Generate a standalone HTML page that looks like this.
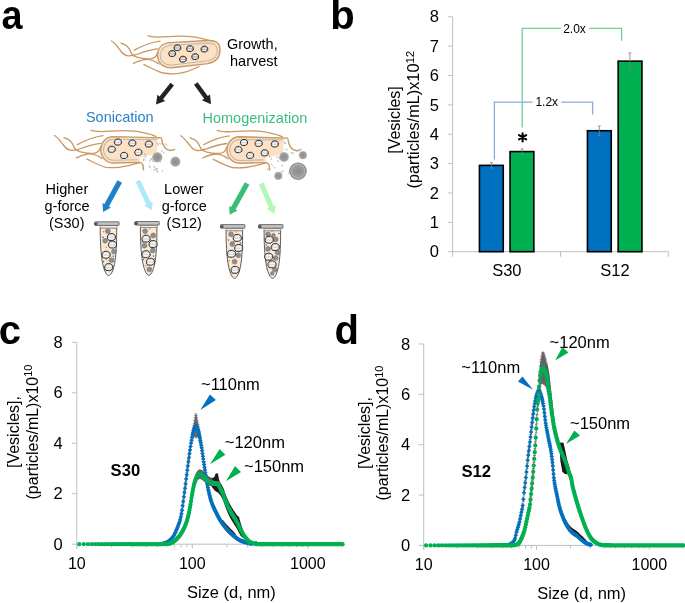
<!DOCTYPE html>
<html><head><meta charset="utf-8"><style>
html,body{margin:0;padding:0;background:#fff;}
svg{display:block;will-change:transform;}
text{font-family:"Liberation Sans",sans-serif;}
</style></head><body>
<svg width="685" height="603" viewBox="0 0 685 603">
<rect width="685" height="603" fill="#fff"/>
<text x="1.5" y="29.3" font-size="40" font-weight="bold" fill="#000" transform="translate(3 0) scale(0.945 1) translate(-3 0)">a</text>
<text x="330.3" y="29.3" font-size="40" font-weight="bold" fill="#000">b</text>
<text x="-1.2" y="344.3" font-size="40" font-weight="bold" fill="#000">c</text>
<text x="334.4" y="344.3" font-size="40" font-weight="bold" fill="#000">d</text>
<g stroke="#bfbfbf" stroke-width="1" fill="none">
<path d="M452.6 251.7V16.82"/>
<path d="M448 251.7h4.6M448 222.34h4.6M448 192.98h4.6M448 163.62h4.6M448 134.26h4.6M448 104.9h4.6M448 75.54h4.6M448 46.18h4.6M448 16.82h4.6"/>
<path d="M452.6 251.7H668.3M560.5 251.7v5M668.3 251.7v5M452.6 251.7v5"/>
</g>
<text x="438.9" y="257.3" font-size="16.5" text-anchor="end" fill="#000">0</text>
<text x="438.9" y="227.94" font-size="16.5" text-anchor="end" fill="#000">1</text>
<text x="438.9" y="198.58" font-size="16.5" text-anchor="end" fill="#000">2</text>
<text x="438.9" y="169.22" font-size="16.5" text-anchor="end" fill="#000">3</text>
<text x="438.9" y="139.86" font-size="16.5" text-anchor="end" fill="#000">4</text>
<text x="438.9" y="110.5" font-size="16.5" text-anchor="end" fill="#000">5</text>
<text x="438.9" y="81.14" font-size="16.5" text-anchor="end" fill="#000">6</text>
<text x="438.9" y="51.78" font-size="16.5" text-anchor="end" fill="#000">7</text>
<text x="438.9" y="22.42" font-size="16.5" text-anchor="end" fill="#000">8</text>
<rect x="479.45" y="165.38" width="23.8" height="86.32" fill="#0070c0" stroke="#000" stroke-width="1.6"/>
<rect x="510.05" y="151.58" width="23.8" height="100.12" fill="#00b050" stroke="#000" stroke-width="1.6"/>
<rect x="587.45" y="130.74" width="23.8" height="120.96" fill="#0070c0" stroke="#000" stroke-width="1.6"/>
<rect x="618.15" y="61.15" width="23.8" height="190.55" fill="#00b050" stroke="#000" stroke-width="1.6"/>
<path d="M491.4 162.74V168.02M489.9 162.74h3M489.9 168.02h3" stroke="#7f7f7f" stroke-width="0.8" fill="none"/>
<path d="M522.1 148.94V154.22M520.6 148.94h3M520.6 154.22h3" stroke="#7f7f7f" stroke-width="0.8" fill="none"/>
<path d="M599.3 126.04V135.43M597.8 126.04h3M597.8 135.43h3" stroke="#7f7f7f" stroke-width="0.8" fill="none"/>
<path d="M629.9 52.93V69.37M628.4 52.93h3M628.4 69.37h3" stroke="#7f7f7f" stroke-width="0.8" fill="none"/>
<path d="M494.4 159.4V102.2H532.6M561.3 102.2H592.6V114.5" stroke="#8eaadc" stroke-width="1.3" fill="none"/>
<path d="M522.2 127.5V28.3H560.8M589.2 28.3H621.6V40.7" stroke="#6fd096" stroke-width="1.3" fill="none"/>
<text x="535.4" y="105.7" font-size="12" fill="#000">1.2x</text>
<text x="563.2" y="33" font-size="12" fill="#000">2.0x</text>
<g stroke="#000" stroke-width="2.1" stroke-linecap="round"><path d="M522.6 133.2V141.4M519 135.1L526.2 139.3M519 139.3L526.2 135.1"/></g>
<text x="492.2" y="276.3" font-size="16.5" fill="#000">S30</text>
<text x="600.3" y="276.3" font-size="16.5" fill="#000">S12</text>
<text transform="translate(399.7 120) rotate(-90)" font-size="16" text-anchor="middle">[Vesicles]</text>
<text transform="translate(419.2 119.6) rotate(-90)" font-size="16.3" text-anchor="middle">(particles/mL)x10<tspan font-size="11.5" dy="-5.4">12</tspan></text>
<g stroke="#bfbfbf" stroke-width="1" fill="none">
<path d="M76.8 548.6V342.36"/>
<path d="M71.8 544.2h5M71.8 493.74h5M71.8 443.28h5M71.8 392.82h5M71.8 342.36h5"/>
<path d="M76.8 544.2H342.57"/>
<path d="M76.8 544.2v4.4M192.3 544.2v4.4M307.8 544.2v4.4M111.57 544.2v3.2M131.91 544.2v3.2M146.34 544.2v3.2M157.53 544.2v3.2M166.68 544.2v3.2M174.41 544.2v3.2M181.11 544.2v3.2M187.02 544.2v3.2M227.07 544.2v3.2M247.41 544.2v3.2M261.84 544.2v3.2M273.03 544.2v3.2M282.18 544.2v3.2M289.91 544.2v3.2M296.61 544.2v3.2M302.52 544.2v3.2M342.57 544.2v3.2"/>
</g>
<text x="62.8" y="549.8" font-size="16.5" text-anchor="end" fill="#000">0</text>
<text x="62.8" y="499.34" font-size="16.5" text-anchor="end" fill="#000">2</text>
<text x="62.8" y="448.88" font-size="16.5" text-anchor="end" fill="#000">4</text>
<text x="62.8" y="398.42" font-size="16.5" text-anchor="end" fill="#000">6</text>
<text x="62.8" y="347.96" font-size="16.5" text-anchor="end" fill="#000">8</text>
<text x="76.8" y="568.6" font-size="16" text-anchor="middle" fill="#000">10</text>
<text x="192.3" y="568.6" font-size="16" text-anchor="middle" fill="#000">100</text>
<text x="307.8" y="568.6" font-size="16" text-anchor="middle" fill="#000">1000</text>
<g stroke="#bfbfbf" stroke-width="1" fill="none">
<path d="M423.7 549.8V343.96"/>
<path d="M418.7 545.4h5M418.7 495.04h5M418.7 444.68h5M418.7 394.32h5M418.7 343.96h5"/>
<path d="M423.7 545.4H683.26"/>
<path d="M423.7 545.4v4.4M536.5 545.4v4.4M649.3 545.4v4.4M457.66 545.4v3.2M477.52 545.4v3.2M491.61 545.4v3.2M502.54 545.4v3.2M511.48 545.4v3.2M519.03 545.4v3.2M525.57 545.4v3.2M531.34 545.4v3.2M570.46 545.4v3.2M590.32 545.4v3.2M604.41 545.4v3.2M615.34 545.4v3.2M624.28 545.4v3.2M631.83 545.4v3.2M638.37 545.4v3.2M644.14 545.4v3.2M683.26 545.4v3.2"/>
</g>
<text x="410.3" y="551" font-size="16.5" text-anchor="end" fill="#000">0</text>
<text x="410.3" y="500.64" font-size="16.5" text-anchor="end" fill="#000">2</text>
<text x="410.3" y="450.28" font-size="16.5" text-anchor="end" fill="#000">4</text>
<text x="410.3" y="399.92" font-size="16.5" text-anchor="end" fill="#000">6</text>
<text x="410.3" y="349.56" font-size="16.5" text-anchor="end" fill="#000">8</text>
<text x="423.7" y="569.8" font-size="16" text-anchor="middle" fill="#000">10</text>
<text x="536.5" y="569.8" font-size="16" text-anchor="middle" fill="#000">100</text>
<text x="649.3" y="569.8" font-size="16" text-anchor="middle" fill="#000">1000</text>
<text x="231.4" y="597.9" font-size="16.5" text-anchor="middle" fill="#000">Size (d, nm)</text>
<text x="581.6" y="599" font-size="16.5" text-anchor="middle" fill="#000">Size (d, nm)</text>
<text x="110.6" y="476.3" font-size="16.6" font-weight="bold" fill="#000">S30</text>
<text x="461.5" y="476.8" font-size="16.6" font-weight="bold" fill="#000">S12</text>
<text x="201" y="390.1" font-size="16.5" fill="#000">~110nm</text>
<text x="224.8" y="448.1" font-size="16.5" fill="#000">~120nm</text>
<text x="244" y="471.8" font-size="16.5" fill="#000">~150nm</text>
<text x="461.3" y="372.9" font-size="16.5" fill="#000">~110nm</text>
<text x="549.6" y="347.6" font-size="16.5" fill="#000">~120nm</text>
<text x="570" y="429.1" font-size="16.5" fill="#000">~150nm</text>
<text transform="translate(18.9 432) rotate(-90)" font-size="16" text-anchor="middle">[Vesicles],</text>
<text transform="translate(37.6 432) rotate(-90)" font-size="16" text-anchor="middle">(particles/mL)x10<tspan font-size="11" dy="-5.2">10</tspan></text>
<text transform="translate(370.3 433) rotate(-90)" font-size="16" text-anchor="middle">[Vesicles],</text>
<text transform="translate(388 433) rotate(-90)" font-size="16" text-anchor="middle">(particles/mL)x10<tspan font-size="11" dy="-5.2">10</tspan></text>
<path d="M200.3 409.9L209.9 394.5L215.9 400.1" fill="#0070c0"/>
<path d="M210 464.3L219.6 449.1L225.4 454.7" fill="#00b050"/>
<path d="M225.9 481.3L235.1 466.1L241 471.9" fill="#00b050"/>
<path d="M533.1 389.8L522.5 376.4L517.9 381.6" fill="#0070c0"/>
<path d="M555.2 360.5L562.4 347L568.4 352.4" fill="#00b050"/>
<path d="M566 443.9L574.3 430.4L580.1 435.5" fill="#00b050"/>
<path d="M220 519.81L220.49 519.92L220.97 520.01L221.46 520.07L221.95 520.1L222.43 520.1L222.92 520.08L223.41 520.62L223.89 521.25L224.38 521.87L224.86 522.48L225.35 523.08L225.84 523.66L226.32 524.23L226.81 524.79L227.3 525.33L227.78 525.86L228.27 526.37L228.76 526.86L229.24 527.35L229.73 527.81L230.22 528.27L230.7 528.7L231.19 529.17L231.68 529.69L232.16 530.2L232.65 530.72L233.14 531.23L233.62 531.74L234.11 532.24L234.59 532.74L235.08 533.32L235.57 534.32L236.05 535.31L236.54 536.29L237.03 537.26L237.51 538.22L238 539.17L238 539.17L237.51 538.84L237.03 538.5L236.54 538.14L236.05 537.78L235.57 537.4L235.08 537.01L234.59 536.62L234.11 536.22L233.62 535.81L233.14 535.4L232.65 534.99L232.16 534.57L231.68 534.15L231.19 533.73L230.7 533.29L230.22 532.84L229.73 532.37L229.24 531.88L228.76 531.38L228.27 530.86L227.78 530.33L227.3 529.79L226.81 529.23L226.32 528.66L225.84 528.07L225.35 527.47L224.86 526.85L224.38 526.23L223.89 525.58L223.41 524.93L222.92 524.27L222.43 523.59L221.95 522.89L221.46 522.16L220.97 521.41L220.49 520.62L220 519.81Z" fill="#1a1a1a"/>
<path d="M210.5 482.48L210.99 480.18L211.49 477.88L211.98 477.77L212.47 477.72L212.97 477.63L213.46 477.52L213.95 477.39L214.45 476.86L214.94 475.38L215.43 473.89L215.93 473.58L216.42 473.45L216.91 473.33L217.41 473.23L217.9 473.59L218.39 475.99L218.89 478.84L219.38 480.58L219.87 481.95L220.36 482.8L220.86 483.47L221.35 484.26L221.84 485.1L222.34 485.97L222.83 486.9L223.32 487.98L223.82 489.22L224.31 490.61L224.8 492.06L225.3 493.43L225.79 494.69L226.28 495.93L226.78 497.17L227.27 498.36L227.76 499.52L228.26 500.64L228.75 501.7L229.24 502.72L229.74 503.69L230.23 504.62L230.72 505.5L231.22 506.36L231.71 507.19L232.2 508.01L232.7 508.81L233.19 509.61L233.68 510.4L234.18 511.15L234.67 511.82L235.16 512.51L235.66 513.21L236.15 513.95L236.64 514.71L237.14 515.38L237.63 515.73L238.12 516.13L238.61 516.55L239.11 517.29L239.6 519.14L240.09 520.97L240.59 522.75L241.08 524.34L241.57 525.8L242.07 527.27L242.56 528.71L243.05 530.12L243.55 531.42L244.04 532.68L244.53 533.88L245.03 535.02L245.52 536.14L246.01 537.26L246.51 538.37L247 539.45L247 539.45L246.51 539.35L246.01 539.24L245.52 539.1L245.03 538.96L244.53 538.81L244.04 538.6L243.55 538.33L243.05 538.01L242.56 537.61L242.07 537.17L241.57 536.72L241.08 536.26L240.59 535.66L240.09 534.84L239.6 533.97L239.11 533.08L238.61 532.12L238.12 531.16L237.63 530.22L237.14 529.32L236.64 528.45L236.15 527.6L235.66 526.79L235.16 526L234.67 525.23L234.18 524.48L233.68 523.7L233.19 522.91L232.7 522.11L232.2 521.31L231.71 520.49L231.22 519.66L230.72 518.8L230.23 517.92L229.74 517L229.24 516.04L228.75 515.03L228.26 513.98L227.76 512.88L227.27 511.73L226.78 510.55L226.28 509.33L225.79 508.07L225.3 506.76L224.8 505.34L224.31 503.84L223.82 502.4L223.32 501.11L222.83 499.96L222.34 498.94L221.84 497.97L221.35 497.03L220.86 496.13L220.36 495.31L219.87 494.62L219.38 494.28L218.89 493.8L218.39 492.92L217.9 492.5L217.41 492.22L216.91 491.94L216.42 491.67L215.93 491.41L215.43 491.12L214.94 490.64L214.45 490.14L213.95 489.58L213.46 488.98L212.97 488.38L212.47 487.69L211.98 486.95L211.49 486.17L210.99 484.33L210.5 482.48Z" fill="#1a1a1a"/><path d="M194 484.73L194.49 481.85L194.97 479.29L195.46 476.85L195.95 474.55L196.44 473.28L196.92 472.33L197.41 471.61L197.9 470.94L198.38 470.35L198.87 469.87L199.36 469.57L199.85 469.49L200.33 469.55L200.82 469.69L201.31 469.89L201.79 470.12L202.28 470.37L202.77 470.73L203.26 471.23L203.74 471.81L204.23 472.4L204.72 472.95L205.21 473.43L205.69 473.9L206.18 474.37L206.67 474.81L207.15 475.25L207.64 475.67L208.13 476.07L208.62 476.44L209.1 476.77L209.59 477.07L210.08 477.31L210.56 477.5L211.05 477.67L211.54 477.83L212.03 477.97L212.51 478.1L213 483.22L213 483.22L212.51 486.5L212.03 486.37L211.54 486.23L211.05 486.07L210.56 485.9L210.08 485.71L209.59 485.43L209.1 485.09L208.62 484.7L208.13 484.28L207.64 483.84L207.15 483.37L206.67 482.88L206.18 482.39L205.69 481.97L205.21 481.61L204.72 481.25L204.23 480.81L203.74 480.34L203.26 479.87L202.77 479.37L202.28 478.88L201.79 478.5L201.31 478.15L200.82 477.82L200.33 477.54L199.85 477.35L199.36 477.3L198.87 477.45L198.38 477.78L197.9 478.22L197.41 478.74L196.92 479.31L196.44 480.11L195.95 481.08L195.46 481.74L194.97 482.55L194.49 483.48L194 484.73Z" fill="#505050"/>
<path d="M166.26 541.77V543.02M167.09 541.28V542.7M167.92 540.7V542.29M168.72 540.06V541.8M169.52 539.36V541.26M170.3 538.65V540.68M171.08 537.92V540.05M171.84 537.11V539.33M172.58 536.2V538.51M173.32 535.17V537.57M174.05 533.94V536.43M174.77 532.5V535.07M175.47 530.92V533.57M176.17 529.24V531.98M176.86 527.53V530.35M177.53 525.83V528.74M178.2 524.13V527.11M178.86 522.32V525.39M179.51 520.33V523.48M180.16 518.07V521.3M180.79 515.31V518.62M181.42 512.04V515.45M182.04 508.38V511.89M182.65 504.05V507.65M183.25 499.58V503.26M183.85 494.98V498.75M184.44 490.58V494.45M185.03 486.2V490.16M185.6 481.62V485.66M186.17 477.02V481.15M186.74 472.56V476.77M187.29 468.14V472.43M187.84 463.78V468.15M188.39 459.43V464.08M188.93 455.2V460.2M189.46 451.16V456.51M189.99 447.2V452.89M190.51 443.39V449.43M191.03 439.9V446.27M191.54 436.79V443.49M192.05 433.76V440.88M192.55 430.52V438.9M193.05 427.64V437.26M193.54 425.26V436.1M194.03 423.19V435.35M194.51 420.32V435.53M194.99 417.7V435.92M195.46 415.45V436.66M195.93 413.89V437.71M196.39 415.66V436.58M196.85 417.87V435.92M197.31 420.39V435.58M197.76 422.6V435.87M198.21 424.51V436.53M198.65 426.61V437.38M199.09 429.04V438.58M199.53 431.72V440.04M199.96 434.57V441.68M200.39 437.07V443.82M200.81 439.54V446.01M201.24 442.12V448.32M201.65 444.89V450.82M202.07 447.78V453.44M202.48 450.73V456.11M202.89 453.66V458.78M203.29 456.52V461.38M203.69 459.36V463.96M204.09 462.22V466.6M204.49 465V469.31M204.88 467.71V471.96M205.27 470.32V474.5M205.65 472.77V476.88M206.04 475.12V479.17M206.42 477.43V481.4M206.79 479.66V483.57M207.17 481.8V485.64M207.54 483.84V487.62M207.91 485.76V489.48M208.27 487.55V491.21M208.64 489.24V492.83M209 490.88V494.41M209.36 492.46V495.92M209.71 493.96V497.36M210.07 495.4V498.74M210.42 496.76V500.03M210.76 498.03V501.25M211.11 499.22V502.38M211.45 500.32V503.41M211.8 501.33V504.37M212.13 502.28V505.27M212.47 503.16V506.14M212.81 504V506.97M213.14 504.79V507.75M213.47 505.56V508.5M213.8 506.29V509.22M214.12 507V509.92M214.44 507.68V510.59M214.77 508.35V511.25M215.09 509.01V511.9M215.4 509.66V512.54M215.72 510.31V513.17M216.03 510.95V513.8M216.34 511.58V514.42M216.65 512.2V515.03M216.96 512.81V515.63M217.27 513.41V516.22M217.57 514V516.8M217.87 514.58V517.37M218.17 515.15V517.93M218.47 515.71V518.48M218.77 516.26V519.02M219.06 516.8V519.55M219.36 517.33V520.06M219.65 517.84V520.57M219.94 518.35V521.06M220.23 518.84V521.54M220.51 519.32V522.01M220.8 519.79V522.47M221.08 520.24V522.92M221.36 520.69V523.35M221.64 521.12V523.77M221.92 521.53V524.18M222.2 521.94V524.58M222.48 522.33V524.96M222.75 522.72V525.34M223.02 523.1V525.71M223.29 523.48V526.08M223.56 523.85V526.44M223.83 524.22V526.79M224.1 524.57V527.14M224.36 524.93V527.49M224.63 525.27V527.82M224.89 525.62V528.16M225.15 525.95V528.48M225.41 526.28V528.8M225.67 526.61V529.12M225.93 526.93V529.43M226.18 527.24V529.73M226.44 527.55V530.03M226.69 527.85V530.33M226.94 528.15V530.62M227.19 528.44V530.9M227.44 528.73V531.18M227.69 529.01V531.45M227.94 529.29V531.72M228.19 529.56V531.98M228.43 529.83V532.24M228.67 530.09V532.5M228.92 530.35V532.74M229.16 530.6V532.99M229.4 530.85V533.23M229.64 531.09V533.46M229.87 531.33V533.69M230.11 531.56V533.91M230.35 531.79V534.13M230.58 532.01V534.35M230.81 532.23V534.56M231.05 532.44V534.76M231.28 532.65V534.96M231.51 532.85V535.16M231.74 533.06V535.35M231.96 533.26V535.54M232.19 533.46V535.73M232.42 533.65V535.92M232.64 533.85V536.11M232.87 534.05V536.3M233.09 534.24V536.49M233.31 534.43V536.67M233.53 534.62V536.85M233.75 534.81V537.03M233.97 535V537.21M234.19 535.18V537.39M234.41 535.37V537.57M234.62 535.55V537.74M234.84 535.73V537.91M235.05 535.9V538.08M235.26 536.08V538.25M235.48 536.25V538.41M235.69 536.42V538.57M235.9 536.58V538.73M236.11 536.75V538.89M236.32 536.91V539.04M236.53 537.07V539.19M236.73 537.23V539.34M236.94 537.38V539.49M237.15 537.53V539.63M237.35 537.68V539.77M237.55 537.82V539.91M237.76 537.97V540.05M237.96 538.11V540.18M238.16 538.24V540.31M238.36 538.38V540.43M238.56 538.51V540.56M238.76 538.63V540.68M238.96 538.76V540.79M239.16 538.88V540.91M239.35 538.99V541.02M239.55 539.11V541.12M239.74 539.22V541.23M239.94 539.33V541.33M240.13 539.44V541.42M240.33 539.55V541.5M240.52 539.65V541.58M240.71 539.76V541.66M240.9 539.86V541.74M241.09 539.95V541.81M241.28 540.05V541.87M241.47 540.13V541.94M241.66 540.22V542M241.84 540.3V542.05M242.03 540.38V542.11M242.22 540.45V542.16M242.4 540.52V542.2M242.58 540.6V542.25M242.77 540.67V542.3M242.95 540.74V542.34M243.13 540.81V542.39M243.32 540.88V542.43M243.5 540.94V542.48M243.68 541.01V542.52M243.86 541.08V542.56M244.04 541.14V542.61M244.21 541.21V542.65M244.39 541.28V542.69M244.57 541.34V542.73M244.75 541.4V542.77M244.92 541.46V542.81M245.1 541.53V542.85M245.27 541.59V542.88M245.45 541.65V542.92M245.62 541.71V542.96M245.79 541.77V542.99M245.97 541.83V543.03M171.08 542.67V543.89M171.84 542.2V543.57M172.58 541.64V543.16M173.32 541.05V542.71M174.05 540.46V542.27M174.77 539.85V541.81M175.47 539.21V541.28M176.17 538.52V540.7M176.86 537.79V540.08M177.53 537.02V539.42M178.2 536.21V538.73M178.86 535.38V538M179.51 534.51V537.24M180.16 533.59V536.41M180.79 532.6V535.53M181.42 531.56V534.59M182.04 530.47V533.59M182.65 529.33V532.55M183.25 528.14V531.46M183.85 526.9V530.32M184.44 525.62V529.13M185.03 524.23V527.84M185.6 522.76V526.43M186.17 521.17V524.91M186.74 519.48V523.28M187.29 517.66V521.52M187.84 515.61V519.53M188.39 513.32V517.31M188.93 510.86V514.9M189.46 508.24V512.35M189.99 505.36V509.53M190.51 502.29V506.52M191.03 499.08V503.37M191.54 495.64V499.99M192.05 492.52V496.94M192.55 489.63V494.25M193.05 486.86V491.68M193.54 484.3V489.31M194.03 482.02V487.23M194.51 480.1V485.5M194.99 478.5V484.1M195.46 477.03V482.81M195.93 475.71V481.68M196.39 474.55V480.74M196.85 473.58V480.01M197.31 472.84V479.49M197.76 472.18V479.06M198.21 471.57V478.67M198.65 471.05V478.37M199.09 470.65V478.2M199.53 470.42V478.18M199.96 470.34V478.32M200.39 470.55V478.36M200.81 470.84V478.43M201.24 471.16V478.55M201.65 471.51V478.68M202.07 471.86V478.82M202.48 472.26V479.02M202.89 472.75V479.3M203.29 473.28V479.63M203.69 473.83V479.98M204.09 474.39V480.34M204.49 474.92V480.68M204.88 475.41V480.97M205.27 475.85V481.22M205.65 476.3V481.47M206.04 476.75V481.73M206.42 477.19V481.98M206.79 477.63V482.23M207.17 478.05V482.47M207.54 478.47V482.7M207.91 478.87V482.92M208.27 479.19V483.18M208.64 479.47V483.44M209 479.73V483.68M209.36 479.96V483.9M209.71 480.17V484.09M210.07 480.35V484.26M210.42 480.5V484.39M210.76 480.63V484.51M211.11 480.76V484.62M211.45 480.88V484.72M211.8 480.99V484.82M212.13 481.09V484.91M212.47 481.19V484.99M212.81 481.28V485.06M213.14 481.37V485.13M213.47 481.45V485.2M213.8 481.53V485.26M214.12 481.6V485.32M214.44 481.67V485.37M214.77 481.73V485.42M215.09 481.79V485.47M215.4 481.84V485.5M215.72 481.88V485.53M216.03 481.92V485.55M216.34 481.95V485.57M216.65 481.99V485.6M216.96 482.03V485.62M217.27 482.08V485.66M217.57 482.14V485.71M217.87 482.22V485.77M218.17 482.4V485.94M218.47 482.78V486.3M218.77 483.31V486.82M219.06 483.94V487.44M219.36 484.63V488.12M219.65 485.34V488.81M219.94 486.02V489.48M220.23 486.63V490.08M220.51 487.2V490.63M220.8 487.76V491.18M221.08 488.33V491.73M221.36 488.89V492.28M221.64 489.46V492.84M221.92 490.03V493.4M222.2 490.61V493.96M222.48 491.2V494.54M222.75 491.8V495.13M223.02 492.42V495.74M223.29 493.05V496.36M223.56 493.71V497M223.83 494.41V497.69M224.1 495.16V498.43M224.36 495.94V499.19M224.63 496.72V499.96M224.89 497.49V500.72M225.15 498.23V501.45M225.41 498.93V502.13M225.67 499.59V502.78M225.93 500.24V503.42M226.18 500.88V504.05M226.44 501.51V504.67M226.69 502.13V505.28M226.94 502.73V505.87M227.19 503.33V506.45M227.44 503.91V507.02M227.69 504.48V507.58M227.94 505.03V508.12M228.19 505.57V508.65M228.43 506.1V509.17M228.67 506.61V509.67M228.92 507.11V510.16M229.16 507.59V510.63M229.4 508.06V511.09M229.64 508.52V511.53M229.87 508.96V511.97M230.11 509.4V512.38M230.35 509.84V512.78M230.58 510.26V513.18M230.81 510.68V513.56M231.05 511.09V513.93M231.28 511.49V514.3M231.51 511.89V514.66M231.74 512.28V515.02M231.96 512.66V515.37M232.19 513.04V515.71M232.42 513.42V516.06M232.64 513.79V516.39M232.87 514.16V516.73M233.09 514.52V517.06M233.31 514.89V517.39M233.53 515.25V517.72M233.75 515.61V518.05M233.97 515.97V518.37M234.19 516.33V518.7M234.41 516.69V519.03M234.62 517.05V519.36M234.84 517.41V519.69M235.05 517.78V520.02M235.26 518.14V520.35M235.48 518.51V520.69M235.69 518.88V521.03M235.9 519.26V521.37M236.11 519.64V521.72M236.32 520.02V522.07M236.53 520.41V522.43M236.73 520.8V522.79M236.94 521.2V523.16M237.15 521.6V523.53M237.35 522.01V523.91M237.55 522.43V524.3M237.76 522.86V524.7M237.96 523.29V525.1M238.16 523.72V525.5M238.36 524.16V525.9M238.56 524.6V526.31M238.76 525.03V526.72M238.96 525.46V527.12M239.16 525.9V527.52M239.35 526.32V527.92M239.55 526.75V528.32M239.74 527.17V528.7M239.94 527.58V529.09M240.13 527.98V529.46M240.33 528.38V529.83M240.52 528.76V530.18M240.71 529.14V530.53M240.9 529.5V530.87M241.09 529.87V531.2M241.28 530.23V531.54M241.47 530.59V531.87M241.66 530.95V532.2M241.84 531.31V532.53" stroke="#5a5a5a" stroke-width="0.8" fill="none"/>
<path d="M165.06 541.77h2.4M165.06 543.02h2.4M165.89 541.28h2.4M165.89 542.7h2.4M166.72 540.7h2.4M166.72 542.29h2.4M167.52 540.06h2.4M167.52 541.8h2.4M168.32 539.36h2.4M168.32 541.26h2.4M169.1 538.65h2.4M169.1 540.68h2.4M169.88 537.92h2.4M169.88 540.05h2.4M170.64 537.11h2.4M170.64 539.33h2.4M171.38 536.2h2.4M171.38 538.51h2.4M172.12 535.17h2.4M172.12 537.57h2.4M172.85 533.94h2.4M172.85 536.43h2.4M173.57 532.5h2.4M173.57 535.07h2.4M174.27 530.92h2.4M174.27 533.57h2.4M174.97 529.24h2.4M174.97 531.98h2.4M175.66 527.53h2.4M175.66 530.35h2.4M176.33 525.83h2.4M176.33 528.74h2.4M177 524.13h2.4M177 527.11h2.4M177.66 522.32h2.4M177.66 525.39h2.4M178.31 520.33h2.4M178.31 523.48h2.4M178.96 518.07h2.4M178.96 521.3h2.4M179.59 515.31h2.4M179.59 518.62h2.4M180.22 512.04h2.4M180.22 515.45h2.4M180.84 508.38h2.4M180.84 511.89h2.4M181.45 504.05h2.4M181.45 507.65h2.4M182.05 499.58h2.4M182.05 503.26h2.4M182.65 494.98h2.4M182.65 498.75h2.4M183.24 490.58h2.4M183.24 494.45h2.4M183.83 486.2h2.4M183.83 490.16h2.4M184.4 481.62h2.4M184.4 485.66h2.4M184.97 477.02h2.4M184.97 481.15h2.4M185.54 472.56h2.4M185.54 476.77h2.4M186.09 468.14h2.4M186.09 472.43h2.4M186.64 463.78h2.4M186.64 468.15h2.4M187.19 459.43h2.4M187.19 464.08h2.4M187.73 455.2h2.4M187.73 460.2h2.4M188.26 451.16h2.4M188.26 456.51h2.4M188.79 447.2h2.4M188.79 452.89h2.4M189.31 443.39h2.4M189.31 449.43h2.4M189.83 439.9h2.4M189.83 446.27h2.4M190.34 436.79h2.4M190.34 443.49h2.4M190.85 433.76h2.4M190.85 440.88h2.4M191.35 430.52h2.4M191.35 438.9h2.4M191.85 427.64h2.4M191.85 437.26h2.4M192.34 425.26h2.4M192.34 436.1h2.4M192.83 423.19h2.4M192.83 435.35h2.4M193.31 420.32h2.4M193.31 435.53h2.4M193.79 417.7h2.4M193.79 435.92h2.4M194.26 415.45h2.4M194.26 436.66h2.4M194.73 413.89h2.4M194.73 437.71h2.4M195.19 415.66h2.4M195.19 436.58h2.4M195.65 417.87h2.4M195.65 435.92h2.4M196.11 420.39h2.4M196.11 435.58h2.4M196.56 422.6h2.4M196.56 435.87h2.4M197.01 424.51h2.4M197.01 436.53h2.4M197.45 426.61h2.4M197.45 437.38h2.4M197.89 429.04h2.4M197.89 438.58h2.4M198.33 431.72h2.4M198.33 440.04h2.4M198.76 434.57h2.4M198.76 441.68h2.4M199.19 437.07h2.4M199.19 443.82h2.4M199.61 439.54h2.4M199.61 446.01h2.4M200.04 442.12h2.4M200.04 448.32h2.4M200.45 444.89h2.4M200.45 450.82h2.4M200.87 447.78h2.4M200.87 453.44h2.4M201.28 450.73h2.4M201.28 456.11h2.4M201.69 453.66h2.4M201.69 458.78h2.4M202.09 456.52h2.4M202.09 461.38h2.4M202.49 459.36h2.4M202.49 463.96h2.4M202.89 462.22h2.4M202.89 466.6h2.4M203.29 465h2.4M203.29 469.31h2.4M203.68 467.71h2.4M203.68 471.96h2.4M204.07 470.32h2.4M204.07 474.5h2.4M204.45 472.77h2.4M204.45 476.88h2.4M204.84 475.12h2.4M204.84 479.17h2.4M205.22 477.43h2.4M205.22 481.4h2.4M205.59 479.66h2.4M205.59 483.57h2.4M205.97 481.8h2.4M205.97 485.64h2.4M206.34 483.84h2.4M206.34 487.62h2.4M206.71 485.76h2.4M206.71 489.48h2.4M207.07 487.55h2.4M207.07 491.21h2.4M207.44 489.24h2.4M207.44 492.83h2.4M207.8 490.88h2.4M207.8 494.41h2.4M208.16 492.46h2.4M208.16 495.92h2.4M208.51 493.96h2.4M208.51 497.36h2.4M208.87 495.4h2.4M208.87 498.74h2.4M209.22 496.76h2.4M209.22 500.03h2.4M209.56 498.03h2.4M209.56 501.25h2.4M209.91 499.22h2.4M209.91 502.38h2.4M210.25 500.32h2.4M210.25 503.41h2.4M210.6 501.33h2.4M210.6 504.37h2.4M210.93 502.28h2.4M210.93 505.27h2.4M211.27 503.16h2.4M211.27 506.14h2.4M211.61 504h2.4M211.61 506.97h2.4M211.94 504.79h2.4M211.94 507.75h2.4M212.27 505.56h2.4M212.27 508.5h2.4M212.6 506.29h2.4M212.6 509.22h2.4M212.92 507h2.4M212.92 509.92h2.4M213.24 507.68h2.4M213.24 510.59h2.4M213.57 508.35h2.4M213.57 511.25h2.4M213.89 509.01h2.4M213.89 511.9h2.4M214.2 509.66h2.4M214.2 512.54h2.4M214.52 510.31h2.4M214.52 513.17h2.4M214.83 510.95h2.4M214.83 513.8h2.4M215.14 511.58h2.4M215.14 514.42h2.4M215.45 512.2h2.4M215.45 515.03h2.4M215.76 512.81h2.4M215.76 515.63h2.4M216.07 513.41h2.4M216.07 516.22h2.4M216.37 514h2.4M216.37 516.8h2.4M216.67 514.58h2.4M216.67 517.37h2.4M216.97 515.15h2.4M216.97 517.93h2.4M217.27 515.71h2.4M217.27 518.48h2.4M217.57 516.26h2.4M217.57 519.02h2.4M217.86 516.8h2.4M217.86 519.55h2.4M218.16 517.33h2.4M218.16 520.06h2.4M218.45 517.84h2.4M218.45 520.57h2.4M218.74 518.35h2.4M218.74 521.06h2.4M219.03 518.84h2.4M219.03 521.54h2.4M219.31 519.32h2.4M219.31 522.01h2.4M219.6 519.79h2.4M219.6 522.47h2.4M219.88 520.24h2.4M219.88 522.92h2.4M220.16 520.69h2.4M220.16 523.35h2.4M220.44 521.12h2.4M220.44 523.77h2.4M220.72 521.53h2.4M220.72 524.18h2.4M221 521.94h2.4M221 524.58h2.4M221.28 522.33h2.4M221.28 524.96h2.4M221.55 522.72h2.4M221.55 525.34h2.4M221.82 523.1h2.4M221.82 525.71h2.4M222.09 523.48h2.4M222.09 526.08h2.4M222.36 523.85h2.4M222.36 526.44h2.4M222.63 524.22h2.4M222.63 526.79h2.4M222.9 524.57h2.4M222.9 527.14h2.4M223.16 524.93h2.4M223.16 527.49h2.4M223.43 525.27h2.4M223.43 527.82h2.4M223.69 525.62h2.4M223.69 528.16h2.4M223.95 525.95h2.4M223.95 528.48h2.4M224.21 526.28h2.4M224.21 528.8h2.4M224.47 526.61h2.4M224.47 529.12h2.4M224.73 526.93h2.4M224.73 529.43h2.4M224.98 527.24h2.4M224.98 529.73h2.4M225.24 527.55h2.4M225.24 530.03h2.4M225.49 527.85h2.4M225.49 530.33h2.4M225.74 528.15h2.4M225.74 530.62h2.4M225.99 528.44h2.4M225.99 530.9h2.4M226.24 528.73h2.4M226.24 531.18h2.4M226.49 529.01h2.4M226.49 531.45h2.4M226.74 529.29h2.4M226.74 531.72h2.4M226.99 529.56h2.4M226.99 531.98h2.4M227.23 529.83h2.4M227.23 532.24h2.4M227.47 530.09h2.4M227.47 532.5h2.4M227.72 530.35h2.4M227.72 532.74h2.4M227.96 530.6h2.4M227.96 532.99h2.4M228.2 530.85h2.4M228.2 533.23h2.4M228.44 531.09h2.4M228.44 533.46h2.4M228.67 531.33h2.4M228.67 533.69h2.4M228.91 531.56h2.4M228.91 533.91h2.4M229.15 531.79h2.4M229.15 534.13h2.4M229.38 532.01h2.4M229.38 534.35h2.4M229.61 532.23h2.4M229.61 534.56h2.4M229.85 532.44h2.4M229.85 534.76h2.4M230.08 532.65h2.4M230.08 534.96h2.4M230.31 532.85h2.4M230.31 535.16h2.4M230.54 533.06h2.4M230.54 535.35h2.4M230.76 533.26h2.4M230.76 535.54h2.4M230.99 533.46h2.4M230.99 535.73h2.4M231.22 533.65h2.4M231.22 535.92h2.4M231.44 533.85h2.4M231.44 536.11h2.4M231.67 534.05h2.4M231.67 536.3h2.4M231.89 534.24h2.4M231.89 536.49h2.4M232.11 534.43h2.4M232.11 536.67h2.4M232.33 534.62h2.4M232.33 536.85h2.4M232.55 534.81h2.4M232.55 537.03h2.4M232.77 535h2.4M232.77 537.21h2.4M232.99 535.18h2.4M232.99 537.39h2.4M233.21 535.37h2.4M233.21 537.57h2.4M233.42 535.55h2.4M233.42 537.74h2.4M233.64 535.73h2.4M233.64 537.91h2.4M233.85 535.9h2.4M233.85 538.08h2.4M234.06 536.08h2.4M234.06 538.25h2.4M234.28 536.25h2.4M234.28 538.41h2.4M234.49 536.42h2.4M234.49 538.57h2.4M234.7 536.58h2.4M234.7 538.73h2.4M234.91 536.75h2.4M234.91 538.89h2.4M235.12 536.91h2.4M235.12 539.04h2.4M235.33 537.07h2.4M235.33 539.19h2.4M235.53 537.23h2.4M235.53 539.34h2.4M235.74 537.38h2.4M235.74 539.49h2.4M235.95 537.53h2.4M235.95 539.63h2.4M236.15 537.68h2.4M236.15 539.77h2.4M236.35 537.82h2.4M236.35 539.91h2.4M236.56 537.97h2.4M236.56 540.05h2.4M236.76 538.11h2.4M236.76 540.18h2.4M236.96 538.24h2.4M236.96 540.31h2.4M237.16 538.38h2.4M237.16 540.43h2.4M237.36 538.51h2.4M237.36 540.56h2.4M237.56 538.63h2.4M237.56 540.68h2.4M237.76 538.76h2.4M237.76 540.79h2.4M237.96 538.88h2.4M237.96 540.91h2.4M238.15 538.99h2.4M238.15 541.02h2.4M238.35 539.11h2.4M238.35 541.12h2.4M238.54 539.22h2.4M238.54 541.23h2.4M238.74 539.33h2.4M238.74 541.33h2.4M238.93 539.44h2.4M238.93 541.42h2.4M239.13 539.55h2.4M239.13 541.5h2.4M239.32 539.65h2.4M239.32 541.58h2.4M239.51 539.76h2.4M239.51 541.66h2.4M239.7 539.86h2.4M239.7 541.74h2.4M239.89 539.95h2.4M239.89 541.81h2.4M240.08 540.05h2.4M240.08 541.87h2.4M240.27 540.13h2.4M240.27 541.94h2.4M240.46 540.22h2.4M240.46 542h2.4M240.64 540.3h2.4M240.64 542.05h2.4M240.83 540.38h2.4M240.83 542.11h2.4M241.02 540.45h2.4M241.02 542.16h2.4M241.2 540.52h2.4M241.2 542.2h2.4M241.38 540.6h2.4M241.38 542.25h2.4M241.57 540.67h2.4M241.57 542.3h2.4M241.75 540.74h2.4M241.75 542.34h2.4M241.93 540.81h2.4M241.93 542.39h2.4M242.12 540.88h2.4M242.12 542.43h2.4M242.3 540.94h2.4M242.3 542.48h2.4M242.48 541.01h2.4M242.48 542.52h2.4M242.66 541.08h2.4M242.66 542.56h2.4M242.84 541.14h2.4M242.84 542.61h2.4M243.01 541.21h2.4M243.01 542.65h2.4M243.19 541.28h2.4M243.19 542.69h2.4M243.37 541.34h2.4M243.37 542.73h2.4M243.55 541.4h2.4M243.55 542.77h2.4M243.72 541.46h2.4M243.72 542.81h2.4M243.9 541.53h2.4M243.9 542.85h2.4M244.07 541.59h2.4M244.07 542.88h2.4M244.25 541.65h2.4M244.25 542.92h2.4M244.42 541.71h2.4M244.42 542.96h2.4M244.59 541.77h2.4M244.59 542.99h2.4M244.77 541.83h2.4M244.77 543.03h2.4M169.88 542.67h2.4M169.88 543.89h2.4M170.64 542.2h2.4M170.64 543.57h2.4M171.38 541.64h2.4M171.38 543.16h2.4M172.12 541.05h2.4M172.12 542.71h2.4M172.85 540.46h2.4M172.85 542.27h2.4M173.57 539.85h2.4M173.57 541.81h2.4M174.27 539.21h2.4M174.27 541.28h2.4M174.97 538.52h2.4M174.97 540.7h2.4M175.66 537.79h2.4M175.66 540.08h2.4M176.33 537.02h2.4M176.33 539.42h2.4M177 536.21h2.4M177 538.73h2.4M177.66 535.38h2.4M177.66 538h2.4M178.31 534.51h2.4M178.31 537.24h2.4M178.96 533.59h2.4M178.96 536.41h2.4M179.59 532.6h2.4M179.59 535.53h2.4M180.22 531.56h2.4M180.22 534.59h2.4M180.84 530.47h2.4M180.84 533.59h2.4M181.45 529.33h2.4M181.45 532.55h2.4M182.05 528.14h2.4M182.05 531.46h2.4M182.65 526.9h2.4M182.65 530.32h2.4M183.24 525.62h2.4M183.24 529.13h2.4M183.83 524.23h2.4M183.83 527.84h2.4M184.4 522.76h2.4M184.4 526.43h2.4M184.97 521.17h2.4M184.97 524.91h2.4M185.54 519.48h2.4M185.54 523.28h2.4M186.09 517.66h2.4M186.09 521.52h2.4M186.64 515.61h2.4M186.64 519.53h2.4M187.19 513.32h2.4M187.19 517.31h2.4M187.73 510.86h2.4M187.73 514.9h2.4M188.26 508.24h2.4M188.26 512.35h2.4M188.79 505.36h2.4M188.79 509.53h2.4M189.31 502.29h2.4M189.31 506.52h2.4M189.83 499.08h2.4M189.83 503.37h2.4M190.34 495.64h2.4M190.34 499.99h2.4M190.85 492.52h2.4M190.85 496.94h2.4M191.35 489.63h2.4M191.35 494.25h2.4M191.85 486.86h2.4M191.85 491.68h2.4M192.34 484.3h2.4M192.34 489.31h2.4M192.83 482.02h2.4M192.83 487.23h2.4M193.31 480.1h2.4M193.31 485.5h2.4M193.79 478.5h2.4M193.79 484.1h2.4M194.26 477.03h2.4M194.26 482.81h2.4M194.73 475.71h2.4M194.73 481.68h2.4M195.19 474.55h2.4M195.19 480.74h2.4M195.65 473.58h2.4M195.65 480.01h2.4M196.11 472.84h2.4M196.11 479.49h2.4M196.56 472.18h2.4M196.56 479.06h2.4M197.01 471.57h2.4M197.01 478.67h2.4M197.45 471.05h2.4M197.45 478.37h2.4M197.89 470.65h2.4M197.89 478.2h2.4M198.33 470.42h2.4M198.33 478.18h2.4M198.76 470.34h2.4M198.76 478.32h2.4M199.19 470.55h2.4M199.19 478.36h2.4M199.61 470.84h2.4M199.61 478.43h2.4M200.04 471.16h2.4M200.04 478.55h2.4M200.45 471.51h2.4M200.45 478.68h2.4M200.87 471.86h2.4M200.87 478.82h2.4M201.28 472.26h2.4M201.28 479.02h2.4M201.69 472.75h2.4M201.69 479.3h2.4M202.09 473.28h2.4M202.09 479.63h2.4M202.49 473.83h2.4M202.49 479.98h2.4M202.89 474.39h2.4M202.89 480.34h2.4M203.29 474.92h2.4M203.29 480.68h2.4M203.68 475.41h2.4M203.68 480.97h2.4M204.07 475.85h2.4M204.07 481.22h2.4M204.45 476.3h2.4M204.45 481.47h2.4M204.84 476.75h2.4M204.84 481.73h2.4M205.22 477.19h2.4M205.22 481.98h2.4M205.59 477.63h2.4M205.59 482.23h2.4M205.97 478.05h2.4M205.97 482.47h2.4M206.34 478.47h2.4M206.34 482.7h2.4M206.71 478.87h2.4M206.71 482.92h2.4M207.07 479.19h2.4M207.07 483.18h2.4M207.44 479.47h2.4M207.44 483.44h2.4M207.8 479.73h2.4M207.8 483.68h2.4M208.16 479.96h2.4M208.16 483.9h2.4M208.51 480.17h2.4M208.51 484.09h2.4M208.87 480.35h2.4M208.87 484.26h2.4M209.22 480.5h2.4M209.22 484.39h2.4M209.56 480.63h2.4M209.56 484.51h2.4M209.91 480.76h2.4M209.91 484.62h2.4M210.25 480.88h2.4M210.25 484.72h2.4M210.6 480.99h2.4M210.6 484.82h2.4M210.93 481.09h2.4M210.93 484.91h2.4M211.27 481.19h2.4M211.27 484.99h2.4M211.61 481.28h2.4M211.61 485.06h2.4M211.94 481.37h2.4M211.94 485.13h2.4M212.27 481.45h2.4M212.27 485.2h2.4M212.6 481.53h2.4M212.6 485.26h2.4M212.92 481.6h2.4M212.92 485.32h2.4M213.24 481.67h2.4M213.24 485.37h2.4M213.57 481.73h2.4M213.57 485.42h2.4M213.89 481.79h2.4M213.89 485.47h2.4M214.2 481.84h2.4M214.2 485.5h2.4M214.52 481.88h2.4M214.52 485.53h2.4M214.83 481.92h2.4M214.83 485.55h2.4M215.14 481.95h2.4M215.14 485.57h2.4M215.45 481.99h2.4M215.45 485.6h2.4M215.76 482.03h2.4M215.76 485.62h2.4M216.07 482.08h2.4M216.07 485.66h2.4M216.37 482.14h2.4M216.37 485.71h2.4M216.67 482.22h2.4M216.67 485.77h2.4M216.97 482.4h2.4M216.97 485.94h2.4M217.27 482.78h2.4M217.27 486.3h2.4M217.57 483.31h2.4M217.57 486.82h2.4M217.86 483.94h2.4M217.86 487.44h2.4M218.16 484.63h2.4M218.16 488.12h2.4M218.45 485.34h2.4M218.45 488.81h2.4M218.74 486.02h2.4M218.74 489.48h2.4M219.03 486.63h2.4M219.03 490.08h2.4M219.31 487.2h2.4M219.31 490.63h2.4M219.6 487.76h2.4M219.6 491.18h2.4M219.88 488.33h2.4M219.88 491.73h2.4M220.16 488.89h2.4M220.16 492.28h2.4M220.44 489.46h2.4M220.44 492.84h2.4M220.72 490.03h2.4M220.72 493.4h2.4M221 490.61h2.4M221 493.96h2.4M221.28 491.2h2.4M221.28 494.54h2.4M221.55 491.8h2.4M221.55 495.13h2.4M221.82 492.42h2.4M221.82 495.74h2.4M222.09 493.05h2.4M222.09 496.36h2.4M222.36 493.71h2.4M222.36 497h2.4M222.63 494.41h2.4M222.63 497.69h2.4M222.9 495.16h2.4M222.9 498.43h2.4M223.16 495.94h2.4M223.16 499.19h2.4M223.43 496.72h2.4M223.43 499.96h2.4M223.69 497.49h2.4M223.69 500.72h2.4M223.95 498.23h2.4M223.95 501.45h2.4M224.21 498.93h2.4M224.21 502.13h2.4M224.47 499.59h2.4M224.47 502.78h2.4M224.73 500.24h2.4M224.73 503.42h2.4M224.98 500.88h2.4M224.98 504.05h2.4M225.24 501.51h2.4M225.24 504.67h2.4M225.49 502.13h2.4M225.49 505.28h2.4M225.74 502.73h2.4M225.74 505.87h2.4M225.99 503.33h2.4M225.99 506.45h2.4M226.24 503.91h2.4M226.24 507.02h2.4M226.49 504.48h2.4M226.49 507.58h2.4M226.74 505.03h2.4M226.74 508.12h2.4M226.99 505.57h2.4M226.99 508.65h2.4M227.23 506.1h2.4M227.23 509.17h2.4M227.47 506.61h2.4M227.47 509.67h2.4M227.72 507.11h2.4M227.72 510.16h2.4M227.96 507.59h2.4M227.96 510.63h2.4M228.2 508.06h2.4M228.2 511.09h2.4M228.44 508.52h2.4M228.44 511.53h2.4M228.67 508.96h2.4M228.67 511.97h2.4M228.91 509.4h2.4M228.91 512.38h2.4M229.15 509.84h2.4M229.15 512.78h2.4M229.38 510.26h2.4M229.38 513.18h2.4M229.61 510.68h2.4M229.61 513.56h2.4M229.85 511.09h2.4M229.85 513.93h2.4M230.08 511.49h2.4M230.08 514.3h2.4M230.31 511.89h2.4M230.31 514.66h2.4M230.54 512.28h2.4M230.54 515.02h2.4M230.76 512.66h2.4M230.76 515.37h2.4M230.99 513.04h2.4M230.99 515.71h2.4M231.22 513.42h2.4M231.22 516.06h2.4M231.44 513.79h2.4M231.44 516.39h2.4M231.67 514.16h2.4M231.67 516.73h2.4M231.89 514.52h2.4M231.89 517.06h2.4M232.11 514.89h2.4M232.11 517.39h2.4M232.33 515.25h2.4M232.33 517.72h2.4M232.55 515.61h2.4M232.55 518.05h2.4M232.77 515.97h2.4M232.77 518.37h2.4M232.99 516.33h2.4M232.99 518.7h2.4M233.21 516.69h2.4M233.21 519.03h2.4M233.42 517.05h2.4M233.42 519.36h2.4M233.64 517.41h2.4M233.64 519.69h2.4M233.85 517.78h2.4M233.85 520.02h2.4M234.06 518.14h2.4M234.06 520.35h2.4M234.28 518.51h2.4M234.28 520.69h2.4M234.49 518.88h2.4M234.49 521.03h2.4M234.7 519.26h2.4M234.7 521.37h2.4M234.91 519.64h2.4M234.91 521.72h2.4M235.12 520.02h2.4M235.12 522.07h2.4M235.33 520.41h2.4M235.33 522.43h2.4M235.53 520.8h2.4M235.53 522.79h2.4M235.74 521.2h2.4M235.74 523.16h2.4M235.95 521.6h2.4M235.95 523.53h2.4M236.15 522.01h2.4M236.15 523.91h2.4M236.35 522.43h2.4M236.35 524.3h2.4M236.56 522.86h2.4M236.56 524.7h2.4M236.76 523.29h2.4M236.76 525.1h2.4M236.96 523.72h2.4M236.96 525.5h2.4M237.16 524.16h2.4M237.16 525.9h2.4M237.36 524.6h2.4M237.36 526.31h2.4M237.56 525.03h2.4M237.56 526.72h2.4M237.76 525.46h2.4M237.76 527.12h2.4M237.96 525.9h2.4M237.96 527.52h2.4M238.15 526.32h2.4M238.15 527.92h2.4M238.35 526.75h2.4M238.35 528.32h2.4M238.54 527.17h2.4M238.54 528.7h2.4M238.74 527.58h2.4M238.74 529.09h2.4M238.93 527.98h2.4M238.93 529.46h2.4M239.13 528.38h2.4M239.13 529.83h2.4M239.32 528.76h2.4M239.32 530.18h2.4M239.51 529.14h2.4M239.51 530.53h2.4M239.7 529.5h2.4M239.7 530.87h2.4M239.89 529.87h2.4M239.89 531.2h2.4M240.08 530.23h2.4M240.08 531.54h2.4M240.27 530.59h2.4M240.27 531.87h2.4M240.46 530.95h2.4M240.46 532.2h2.4M240.64 531.31h2.4M240.64 532.53h2.4" stroke="#6a6a6a" stroke-width="0.8" fill="none"/>
<path d="M162.77 541.31l2.25 2.25 -2.25 2.25 -2.25 -2.25zM163.66 541.06l2.25 2.25 -2.25 2.25 -2.25 -2.25zM164.54 540.77l2.25 2.25 -2.25 2.25 -2.25 -2.25zM165.41 540.47l2.25 2.25 -2.25 2.25 -2.25 -2.25zM166.26 540.15l2.25 2.25 -2.25 2.25 -2.25 -2.25zM167.09 539.74l2.25 2.25 -2.25 2.25 -2.25 -2.25zM167.92 539.24l2.25 2.25 -2.25 2.25 -2.25 -2.25zM168.72 538.68l2.25 2.25 -2.25 2.25 -2.25 -2.25zM169.52 538.06l2.25 2.25 -2.25 2.25 -2.25 -2.25zM170.3 537.42l2.25 2.25 -2.25 2.25 -2.25 -2.25zM171.08 536.74l2.25 2.25 -2.25 2.25 -2.25 -2.25zM171.84 535.97l2.25 2.25 -2.25 2.25 -2.25 -2.25zM172.58 535.11l2.25 2.25 -2.25 2.25 -2.25 -2.25zM173.32 534.12l2.25 2.25 -2.25 2.25 -2.25 -2.25zM174.05 532.93l2.25 2.25 -2.25 2.25 -2.25 -2.25zM174.77 531.54l2.25 2.25 -2.25 2.25 -2.25 -2.25zM175.47 529.99l2.25 2.25 -2.25 2.25 -2.25 -2.25zM176.17 528.36l2.25 2.25 -2.25 2.25 -2.25 -2.25zM176.86 526.69l2.25 2.25 -2.25 2.25 -2.25 -2.25zM177.53 525.03l2.25 2.25 -2.25 2.25 -2.25 -2.25zM178.2 523.37l2.25 2.25 -2.25 2.25 -2.25 -2.25zM178.86 521.6l2.25 2.25 -2.25 2.25 -2.25 -2.25zM179.51 519.65l2.25 2.25 -2.25 2.25 -2.25 -2.25zM180.16 517.44l2.25 2.25 -2.25 2.25 -2.25 -2.25zM180.79 514.72l2.25 2.25 -2.25 2.25 -2.25 -2.25zM181.42 511.49l2.25 2.25 -2.25 2.25 -2.25 -2.25zM182.04 507.88l2.25 2.25 -2.25 2.25 -2.25 -2.25zM182.65 503.6l2.25 2.25 -2.25 2.25 -2.25 -2.25zM183.25 499.17l2.25 2.25 -2.25 2.25 -2.25 -2.25zM183.85 494.61l2.25 2.25 -2.25 2.25 -2.25 -2.25zM184.44 490.27l2.25 2.25 -2.25 2.25 -2.25 -2.25zM185.03 485.93l2.25 2.25 -2.25 2.25 -2.25 -2.25zM185.6 481.39l2.25 2.25 -2.25 2.25 -2.25 -2.25zM186.17 476.83l2.25 2.25 -2.25 2.25 -2.25 -2.25zM186.74 472.41l2.25 2.25 -2.25 2.25 -2.25 -2.25zM187.29 468.03l2.25 2.25 -2.25 2.25 -2.25 -2.25zM187.84 463.72l2.25 2.25 -2.25 2.25 -2.25 -2.25zM188.39 459.51l2.25 2.25 -2.25 2.25 -2.25 -2.25zM188.93 455.45l2.25 2.25 -2.25 2.25 -2.25 -2.25zM189.46 451.58l2.25 2.25 -2.25 2.25 -2.25 -2.25zM189.99 447.79l2.25 2.25 -2.25 2.25 -2.25 -2.25zM190.51 444.16l2.25 2.25 -2.25 2.25 -2.25 -2.25zM191.03 440.83l2.25 2.25 -2.25 2.25 -2.25 -2.25zM191.54 437.89l2.25 2.25 -2.25 2.25 -2.25 -2.25zM192.05 435.07l2.25 2.25 -2.25 2.25 -2.25 -2.25zM192.55 432.46l2.25 2.25 -2.25 2.25 -2.25 -2.25zM193.05 430.2l2.25 2.25 -2.25 2.25 -2.25 -2.25zM193.54 428.43l2.25 2.25 -2.25 2.25 -2.25 -2.25zM194.03 427.02l2.25 2.25 -2.25 2.25 -2.25 -2.25zM194.51 425.68l2.25 2.25 -2.25 2.25 -2.25 -2.25zM194.99 424.56l2.25 2.25 -2.25 2.25 -2.25 -2.25zM195.46 423.81l2.25 2.25 -2.25 2.25 -2.25 -2.25zM195.93 423.55l2.25 2.25 -2.25 2.25 -2.25 -2.25zM196.39 423.87l2.25 2.25 -2.25 2.25 -2.25 -2.25zM196.85 424.65l2.25 2.25 -2.25 2.25 -2.25 -2.25zM197.31 425.73l2.25 2.25 -2.25 2.25 -2.25 -2.25zM197.76 426.99l2.25 2.25 -2.25 2.25 -2.25 -2.25zM198.21 428.27l2.25 2.25 -2.25 2.25 -2.25 -2.25zM198.65 429.74l2.25 2.25 -2.25 2.25 -2.25 -2.25zM199.09 431.56l2.25 2.25 -2.25 2.25 -2.25 -2.25zM199.53 433.63l2.25 2.25 -2.25 2.25 -2.25 -2.25zM199.96 435.87l2.25 2.25 -2.25 2.25 -2.25 -2.25zM200.39 438.2l2.25 2.25 -2.25 2.25 -2.25 -2.25zM200.81 440.53l2.25 2.25 -2.25 2.25 -2.25 -2.25zM201.24 442.97l2.25 2.25 -2.25 2.25 -2.25 -2.25zM201.65 445.61l2.25 2.25 -2.25 2.25 -2.25 -2.25zM202.07 448.36l2.25 2.25 -2.25 2.25 -2.25 -2.25zM202.48 451.17l2.25 2.25 -2.25 2.25 -2.25 -2.25zM202.89 453.97l2.25 2.25 -2.25 2.25 -2.25 -2.25zM203.29 456.7l2.25 2.25 -2.25 2.25 -2.25 -2.25zM203.69 459.41l2.25 2.25 -2.25 2.25 -2.25 -2.25zM204.09 462.16l2.25 2.25 -2.25 2.25 -2.25 -2.25zM204.49 464.9l2.25 2.25 -2.25 2.25 -2.25 -2.25zM204.88 467.58l2.25 2.25 -2.25 2.25 -2.25 -2.25zM205.27 470.16l2.25 2.25 -2.25 2.25 -2.25 -2.25zM205.65 472.57l2.25 2.25 -2.25 2.25 -2.25 -2.25zM206.04 474.9l2.25 2.25 -2.25 2.25 -2.25 -2.25zM206.42 477.16l2.25 2.25 -2.25 2.25 -2.25 -2.25zM206.79 479.36l2.25 2.25 -2.25 2.25 -2.25 -2.25zM207.17 481.47l2.25 2.25 -2.25 2.25 -2.25 -2.25zM207.54 483.48l2.25 2.25 -2.25 2.25 -2.25 -2.25zM207.91 485.37l2.25 2.25 -2.25 2.25 -2.25 -2.25zM208.27 487.13l2.25 2.25 -2.25 2.25 -2.25 -2.25zM208.64 488.79l2.25 2.25 -2.25 2.25 -2.25 -2.25zM209 490.39l2.25 2.25 -2.25 2.25 -2.25 -2.25zM209.36 491.94l2.25 2.25 -2.25 2.25 -2.25 -2.25zM209.71 493.41l2.25 2.25 -2.25 2.25 -2.25 -2.25zM210.07 494.82l2.25 2.25 -2.25 2.25 -2.25 -2.25zM210.42 496.15l2.25 2.25 -2.25 2.25 -2.25 -2.25zM210.76 497.39l2.25 2.25 -2.25 2.25 -2.25 -2.25zM211.11 498.55l2.25 2.25 -2.25 2.25 -2.25 -2.25zM211.45 499.61l2.25 2.25 -2.25 2.25 -2.25 -2.25zM211.8 500.6l2.25 2.25 -2.25 2.25 -2.25 -2.25zM212.13 501.53l2.25 2.25 -2.25 2.25 -2.25 -2.25zM212.47 502.4l2.25 2.25 -2.25 2.25 -2.25 -2.25zM212.81 503.23l2.25 2.25 -2.25 2.25 -2.25 -2.25zM213.14 504.02l2.25 2.25 -2.25 2.25 -2.25 -2.25zM213.47 504.78l2.25 2.25 -2.25 2.25 -2.25 -2.25zM213.8 505.51l2.25 2.25 -2.25 2.25 -2.25 -2.25zM214.12 506.21l2.25 2.25 -2.25 2.25 -2.25 -2.25zM214.44 506.89l2.25 2.25 -2.25 2.25 -2.25 -2.25zM214.77 507.55l2.25 2.25 -2.25 2.25 -2.25 -2.25zM215.09 508.21l2.25 2.25 -2.25 2.25 -2.25 -2.25zM215.4 508.85l2.25 2.25 -2.25 2.25 -2.25 -2.25zM215.72 509.49l2.25 2.25 -2.25 2.25 -2.25 -2.25zM216.03 510.12l2.25 2.25 -2.25 2.25 -2.25 -2.25zM216.34 510.75l2.25 2.25 -2.25 2.25 -2.25 -2.25zM216.65 511.36l2.25 2.25 -2.25 2.25 -2.25 -2.25zM216.96 511.97l2.25 2.25 -2.25 2.25 -2.25 -2.25zM217.27 512.57l2.25 2.25 -2.25 2.25 -2.25 -2.25zM217.57 513.15l2.25 2.25 -2.25 2.25 -2.25 -2.25zM217.87 513.73l2.25 2.25 -2.25 2.25 -2.25 -2.25zM218.17 514.29l2.25 2.25 -2.25 2.25 -2.25 -2.25zM218.47 514.85l2.25 2.25 -2.25 2.25 -2.25 -2.25zM218.77 515.39l2.25 2.25 -2.25 2.25 -2.25 -2.25zM219.06 515.92l2.25 2.25 -2.25 2.25 -2.25 -2.25zM219.36 516.45l2.25 2.25 -2.25 2.25 -2.25 -2.25zM219.65 516.96l2.25 2.25 -2.25 2.25 -2.25 -2.25zM219.94 517.45l2.25 2.25 -2.25 2.25 -2.25 -2.25zM220.23 517.94l2.25 2.25 -2.25 2.25 -2.25 -2.25zM220.51 518.42l2.25 2.25 -2.25 2.25 -2.25 -2.25zM220.8 518.88l2.25 2.25 -2.25 2.25 -2.25 -2.25zM221.08 519.33l2.25 2.25 -2.25 2.25 -2.25 -2.25zM221.36 519.77l2.25 2.25 -2.25 2.25 -2.25 -2.25zM221.64 520.19l2.25 2.25 -2.25 2.25 -2.25 -2.25zM221.92 520.61l2.25 2.25 -2.25 2.25 -2.25 -2.25zM222.2 521.01l2.25 2.25 -2.25 2.25 -2.25 -2.25zM222.48 521.4l2.25 2.25 -2.25 2.25 -2.25 -2.25zM222.75 521.78l2.25 2.25 -2.25 2.25 -2.25 -2.25zM223.02 522.16l2.25 2.25 -2.25 2.25 -2.25 -2.25zM223.29 522.53l2.25 2.25 -2.25 2.25 -2.25 -2.25zM223.56 522.89l2.25 2.25 -2.25 2.25 -2.25 -2.25zM223.83 523.25l2.25 2.25 -2.25 2.25 -2.25 -2.25zM224.1 523.61l2.25 2.25 -2.25 2.25 -2.25 -2.25zM224.36 523.96l2.25 2.25 -2.25 2.25 -2.25 -2.25zM224.63 524.3l2.25 2.25 -2.25 2.25 -2.25 -2.25zM224.89 524.64l2.25 2.25 -2.25 2.25 -2.25 -2.25zM225.15 524.97l2.25 2.25 -2.25 2.25 -2.25 -2.25zM225.41 525.29l2.25 2.25 -2.25 2.25 -2.25 -2.25zM225.67 525.61l2.25 2.25 -2.25 2.25 -2.25 -2.25zM225.93 525.93l2.25 2.25 -2.25 2.25 -2.25 -2.25zM226.18 526.24l2.25 2.25 -2.25 2.25 -2.25 -2.25zM226.44 526.54l2.25 2.25 -2.25 2.25 -2.25 -2.25zM226.69 526.84l2.25 2.25 -2.25 2.25 -2.25 -2.25zM226.94 527.13l2.25 2.25 -2.25 2.25 -2.25 -2.25zM227.19 527.42l2.25 2.25 -2.25 2.25 -2.25 -2.25zM227.44 527.7l2.25 2.25 -2.25 2.25 -2.25 -2.25zM227.69 527.98l2.25 2.25 -2.25 2.25 -2.25 -2.25zM227.94 528.26l2.25 2.25 -2.25 2.25 -2.25 -2.25zM228.19 528.52l2.25 2.25 -2.25 2.25 -2.25 -2.25zM228.43 528.79l2.25 2.25 -2.25 2.25 -2.25 -2.25zM228.67 529.04l2.25 2.25 -2.25 2.25 -2.25 -2.25zM228.92 529.3l2.25 2.25 -2.25 2.25 -2.25 -2.25zM229.16 529.54l2.25 2.25 -2.25 2.25 -2.25 -2.25zM229.4 529.79l2.25 2.25 -2.25 2.25 -2.25 -2.25zM229.64 530.02l2.25 2.25 -2.25 2.25 -2.25 -2.25zM229.87 530.26l2.25 2.25 -2.25 2.25 -2.25 -2.25zM230.11 530.49l2.25 2.25 -2.25 2.25 -2.25 -2.25zM230.35 530.71l2.25 2.25 -2.25 2.25 -2.25 -2.25zM230.58 530.93l2.25 2.25 -2.25 2.25 -2.25 -2.25zM230.81 531.14l2.25 2.25 -2.25 2.25 -2.25 -2.25zM231.05 531.35l2.25 2.25 -2.25 2.25 -2.25 -2.25zM231.28 531.56l2.25 2.25 -2.25 2.25 -2.25 -2.25zM231.51 531.76l2.25 2.25 -2.25 2.25 -2.25 -2.25zM231.74 531.95l2.25 2.25 -2.25 2.25 -2.25 -2.25zM231.96 532.15l2.25 2.25 -2.25 2.25 -2.25 -2.25zM232.19 532.35l2.25 2.25 -2.25 2.25 -2.25 -2.25zM232.42 532.54l2.25 2.25 -2.25 2.25 -2.25 -2.25zM232.64 532.73l2.25 2.25 -2.25 2.25 -2.25 -2.25zM232.87 532.92l2.25 2.25 -2.25 2.25 -2.25 -2.25zM233.09 533.11l2.25 2.25 -2.25 2.25 -2.25 -2.25zM233.31 533.3l2.25 2.25 -2.25 2.25 -2.25 -2.25zM233.53 533.49l2.25 2.25 -2.25 2.25 -2.25 -2.25zM233.75 533.67l2.25 2.25 -2.25 2.25 -2.25 -2.25zM233.97 533.86l2.25 2.25 -2.25 2.25 -2.25 -2.25zM234.19 534.04l2.25 2.25 -2.25 2.25 -2.25 -2.25zM234.41 534.22l2.25 2.25 -2.25 2.25 -2.25 -2.25zM234.62 534.39l2.25 2.25 -2.25 2.25 -2.25 -2.25zM234.84 534.57l2.25 2.25 -2.25 2.25 -2.25 -2.25zM235.05 534.74l2.25 2.25 -2.25 2.25 -2.25 -2.25zM235.26 534.91l2.25 2.25 -2.25 2.25 -2.25 -2.25zM235.48 535.08l2.25 2.25 -2.25 2.25 -2.25 -2.25zM235.69 535.24l2.25 2.25 -2.25 2.25 -2.25 -2.25zM235.9 535.41l2.25 2.25 -2.25 2.25 -2.25 -2.25zM236.11 535.57l2.25 2.25 -2.25 2.25 -2.25 -2.25zM236.32 535.73l2.25 2.25 -2.25 2.25 -2.25 -2.25zM236.53 535.88l2.25 2.25 -2.25 2.25 -2.25 -2.25zM236.73 536.03l2.25 2.25 -2.25 2.25 -2.25 -2.25zM236.94 536.18l2.25 2.25 -2.25 2.25 -2.25 -2.25zM237.15 536.33l2.25 2.25 -2.25 2.25 -2.25 -2.25zM237.35 536.48l2.25 2.25 -2.25 2.25 -2.25 -2.25zM237.55 536.62l2.25 2.25 -2.25 2.25 -2.25 -2.25zM237.76 536.76l2.25 2.25 -2.25 2.25 -2.25 -2.25zM237.96 536.89l2.25 2.25 -2.25 2.25 -2.25 -2.25zM238.16 537.03l2.25 2.25 -2.25 2.25 -2.25 -2.25zM238.36 537.15l2.25 2.25 -2.25 2.25 -2.25 -2.25zM238.56 537.28l2.25 2.25 -2.25 2.25 -2.25 -2.25zM238.76 537.4l2.25 2.25 -2.25 2.25 -2.25 -2.25zM238.96 537.53l2.25 2.25 -2.25 2.25 -2.25 -2.25zM239.16 537.64l2.25 2.25 -2.25 2.25 -2.25 -2.25zM239.35 537.76l2.25 2.25 -2.25 2.25 -2.25 -2.25zM239.55 537.87l2.25 2.25 -2.25 2.25 -2.25 -2.25zM239.74 537.97l2.25 2.25 -2.25 2.25 -2.25 -2.25zM239.94 538.08l2.25 2.25 -2.25 2.25 -2.25 -2.25zM240.13 538.18l2.25 2.25 -2.25 2.25 -2.25 -2.25zM240.33 538.28l2.25 2.25 -2.25 2.25 -2.25 -2.25zM240.52 538.37l2.25 2.25 -2.25 2.25 -2.25 -2.25zM240.71 538.46l2.25 2.25 -2.25 2.25 -2.25 -2.25zM240.9 538.55l2.25 2.25 -2.25 2.25 -2.25 -2.25zM241.09 538.63l2.25 2.25 -2.25 2.25 -2.25 -2.25zM241.28 538.71l2.25 2.25 -2.25 2.25 -2.25 -2.25zM241.47 538.79l2.25 2.25 -2.25 2.25 -2.25 -2.25zM241.66 538.86l2.25 2.25 -2.25 2.25 -2.25 -2.25zM241.84 538.93l2.25 2.25 -2.25 2.25 -2.25 -2.25zM242.03 538.99l2.25 2.25 -2.25 2.25 -2.25 -2.25zM242.22 539.05l2.25 2.25 -2.25 2.25 -2.25 -2.25zM242.4 539.11l2.25 2.25 -2.25 2.25 -2.25 -2.25zM242.58 539.17l2.25 2.25 -2.25 2.25 -2.25 -2.25zM242.77 539.23l2.25 2.25 -2.25 2.25 -2.25 -2.25zM242.95 539.29l2.25 2.25 -2.25 2.25 -2.25 -2.25zM243.13 539.35l2.25 2.25 -2.25 2.25 -2.25 -2.25zM243.32 539.41l2.25 2.25 -2.25 2.25 -2.25 -2.25zM243.5 539.46l2.25 2.25 -2.25 2.25 -2.25 -2.25zM243.68 539.52l2.25 2.25 -2.25 2.25 -2.25 -2.25zM243.86 539.57l2.25 2.25 -2.25 2.25 -2.25 -2.25zM244.04 539.63l2.25 2.25 -2.25 2.25 -2.25 -2.25zM244.21 539.68l2.25 2.25 -2.25 2.25 -2.25 -2.25zM244.39 539.73l2.25 2.25 -2.25 2.25 -2.25 -2.25zM244.57 539.78l2.25 2.25 -2.25 2.25 -2.25 -2.25zM244.75 539.84l2.25 2.25 -2.25 2.25 -2.25 -2.25zM244.92 539.89l2.25 2.25 -2.25 2.25 -2.25 -2.25zM245.1 539.94l2.25 2.25 -2.25 2.25 -2.25 -2.25zM245.27 539.99l2.25 2.25 -2.25 2.25 -2.25 -2.25zM245.45 540.04l2.25 2.25 -2.25 2.25 -2.25 -2.25zM245.62 540.08l2.25 2.25 -2.25 2.25 -2.25 -2.25zM245.79 540.13l2.25 2.25 -2.25 2.25 -2.25 -2.25zM245.97 540.18l2.25 2.25 -2.25 2.25 -2.25 -2.25zM246.14 540.22l2.25 2.25 -2.25 2.25 -2.25 -2.25zM246.31 540.27l2.25 2.25 -2.25 2.25 -2.25 -2.25zM246.48 540.31l2.25 2.25 -2.25 2.25 -2.25 -2.25zM246.65 540.36l2.25 2.25 -2.25 2.25 -2.25 -2.25zM246.82 540.4l2.25 2.25 -2.25 2.25 -2.25 -2.25zM246.99 540.44l2.25 2.25 -2.25 2.25 -2.25 -2.25zM247.16 540.49l2.25 2.25 -2.25 2.25 -2.25 -2.25zM247.32 540.53l2.25 2.25 -2.25 2.25 -2.25 -2.25zM247.49 540.57l2.25 2.25 -2.25 2.25 -2.25 -2.25zM247.66 540.61l2.25 2.25 -2.25 2.25 -2.25 -2.25zM247.82 540.65l2.25 2.25 -2.25 2.25 -2.25 -2.25zM247.99 540.68l2.25 2.25 -2.25 2.25 -2.25 -2.25zM248.15 540.72l2.25 2.25 -2.25 2.25 -2.25 -2.25zM248.32 540.76l2.25 2.25 -2.25 2.25 -2.25 -2.25zM248.48 540.8l2.25 2.25 -2.25 2.25 -2.25 -2.25zM248.65 540.83l2.25 2.25 -2.25 2.25 -2.25 -2.25zM248.81 540.87l2.25 2.25 -2.25 2.25 -2.25 -2.25zM248.97 540.9l2.25 2.25 -2.25 2.25 -2.25 -2.25zM249.13 540.93l2.25 2.25 -2.25 2.25 -2.25 -2.25zM249.29 540.97l2.25 2.25 -2.25 2.25 -2.25 -2.25zM249.46 541l2.25 2.25 -2.25 2.25 -2.25 -2.25zM249.62 541.03l2.25 2.25 -2.25 2.25 -2.25 -2.25zM249.78 541.06l2.25 2.25 -2.25 2.25 -2.25 -2.25zM249.93 541.09l2.25 2.25 -2.25 2.25 -2.25 -2.25zM250.09 541.12l2.25 2.25 -2.25 2.25 -2.25 -2.25zM250.25 541.15l2.25 2.25 -2.25 2.25 -2.25 -2.25zM250.41 541.17l2.25 2.25 -2.25 2.25 -2.25 -2.25zM250.57 541.2l2.25 2.25 -2.25 2.25 -2.25 -2.25zM250.72 541.23l2.25 2.25 -2.25 2.25 -2.25 -2.25zM250.88 541.25l2.25 2.25 -2.25 2.25 -2.25 -2.25zM251.04 541.28l2.25 2.25 -2.25 2.25 -2.25 -2.25zM251.19 541.3l2.25 2.25 -2.25 2.25 -2.25 -2.25zM251.35 541.32l2.25 2.25 -2.25 2.25 -2.25 -2.25zM251.5 541.35l2.25 2.25 -2.25 2.25 -2.25 -2.25zM251.65 541.37l2.25 2.25 -2.25 2.25 -2.25 -2.25zM251.81 541.39l2.25 2.25 -2.25 2.25 -2.25 -2.25zM251.96 541.41l2.25 2.25 -2.25 2.25 -2.25 -2.25zM252.11 541.43l2.25 2.25 -2.25 2.25 -2.25 -2.25zM252.26 541.45l2.25 2.25 -2.25 2.25 -2.25 -2.25z" fill="#0070c0"/>
<path d="M79.25 544.2h0M83.81 544.2h0M87.99 544.2h0M91.85 544.2h0M95.44 544.2h0M98.78 544.2h0M101.92 544.2h0M104.87 544.2h0M107.66 544.2h0M110.3 544.2h0M112.81 544.2h0M115.2 544.2h0M117.48 544.2h0M119.66 544.2h0M121.75 544.2h0M123.76 544.2h0M125.68 544.2h0M127.54 544.2h0M129.33 544.2h0M131.06 544.2h0M132.74 544.2h0M134.35 544.2h0M135.92 544.2h0M137.44 544.2h0M138.92 544.2h0M140.35 544.2h0M141.74 544.2h0M143.1 544.2h0M144.42 544.2h0M145.71 544.2h0M146.96 544.2h0M148.18 544.2h0M149.38 544.2h0M150.55 544.2h0M151.69 544.2h0M152.8 544.2h0M153.89 544.2h0M154.96 544.2h0M156 544.2h0M157.03 544.19h0M158.03 544.17h0M159.01 544.15h0M159.98 544.12h0M160.92 544.1h0M161.85 544.07h0M162.77 544.03h0M163.66 544h0M164.54 543.96h0M165.41 543.93h0M166.26 543.89h0M167.09 543.85h0M167.92 543.8h0M168.72 543.74h0M169.52 543.66h0M170.3 543.54h0M171.08 543.28h0M171.84 542.88h0M172.58 542.4h0M173.32 541.88h0M174.05 541.37h0M174.77 540.83h0M175.47 540.24h0M176.17 539.61h0M176.86 538.93h0M177.53 538.22h0M178.2 537.47h0M178.86 536.69h0M179.51 535.87h0M180.16 535h0M180.79 534.06h0M181.42 533.07h0M182.04 532.03h0M182.65 530.94h0M183.25 529.8h0M183.85 528.61h0M184.44 527.37h0M185.03 526.03h0M185.6 524.59h0M186.17 523.04h0M186.74 521.38h0M187.29 519.59h0M187.84 517.57h0M188.39 515.31h0M188.93 512.88h0M189.46 510.3h0M189.99 507.44h0M190.51 504.41h0M191.03 501.22h0M191.54 497.82h0M192.05 494.73h0M192.55 491.94h0M193.05 489.27h0M193.54 486.8h0M194.03 484.62h0M194.51 482.8h0M194.99 481.3h0M195.46 479.92h0M195.93 478.69h0M196.39 477.64h0M196.85 476.79h0M197.31 476.17h0M197.76 475.62h0M198.21 475.12h0M198.65 474.71h0M199.09 474.43h0M199.53 474.3h0M199.96 474.33h0M200.39 474.45h0M200.81 474.63h0M201.24 474.85h0M201.65 475.1h0M202.07 475.34h0M202.48 475.64h0M202.89 476.02h0M203.29 476.45h0M203.69 476.91h0M204.09 477.36h0M204.49 477.8h0M204.88 478.19h0M205.27 478.54h0M205.65 478.89h0M206.04 479.24h0M206.42 479.59h0M206.79 479.93h0M207.17 480.26h0M207.54 480.59h0M207.91 480.89h0M208.27 481.18h0M208.64 481.46h0M209 481.71h0M209.36 481.93h0M209.71 482.13h0M210.07 482.3h0M210.42 482.44h0M210.76 482.57h0M211.11 482.69h0M211.45 482.8h0M211.8 482.9h0M212.13 483h0M212.47 483.09h0M212.81 483.17h0M213.14 483.25h0M213.47 483.32h0M213.8 483.39h0M214.12 483.46h0M214.44 483.52h0M214.77 483.58h0M215.09 483.63h0M215.4 483.67h0M215.72 483.71h0M216.03 483.73h0M216.34 483.76h0M216.65 483.79h0M216.96 483.83h0M217.27 483.87h0M217.57 483.92h0M217.87 483.99h0M218.17 484.17h0M218.47 484.54h0M218.77 485.06h0M219.06 485.69h0M219.36 486.38h0M219.65 487.08h0M219.94 487.75h0M220.23 488.35h0M220.51 488.92h0M220.8 489.47h0M221.08 490.03h0M221.36 490.59h0M221.64 491.15h0M221.92 491.71h0M222.2 492.29h0M222.48 492.87h0M222.75 493.47h0M223.02 494.08h0M223.29 494.71h0M223.56 495.36h0M223.83 496.05h0M224.1 496.8h0M224.36 497.57h0M224.63 498.34h0M224.89 499.11h0M225.15 499.84h0M225.41 500.53h0M225.67 501.19h0M225.93 501.83h0M226.18 502.47h0M226.44 503.09h0M226.69 503.7h0M226.94 504.3h0M227.19 504.89h0M227.44 505.47h0M227.69 506.03h0M227.94 506.58h0M228.19 507.11h0M228.43 507.63h0M228.67 508.14h0M228.92 508.63h0M229.16 509.11h0M229.4 509.57h0M229.64 510.02h0M229.87 510.46h0M230.11 510.89h0M230.35 511.31h0M230.58 511.72h0M230.81 512.12h0M231.05 512.51h0M231.28 512.9h0M231.51 513.28h0M231.74 513.65h0M231.96 514.02h0M232.19 514.38h0M232.42 514.74h0M232.64 515.09h0M232.87 515.44h0M233.09 515.79h0M233.31 516.14h0M233.53 516.48h0M233.75 516.83h0M233.97 517.17h0M234.19 517.51h0M234.41 517.86h0M234.62 518.2h0M234.84 518.55h0M235.05 518.9h0M235.26 519.25h0M235.48 519.6h0M235.69 519.96h0M235.9 520.32h0M236.11 520.68h0M236.32 521.05h0M236.53 521.42h0M236.73 521.79h0M236.94 522.18h0M237.15 522.57h0M237.35 522.96h0M237.55 523.37h0M237.76 523.78h0M237.96 524.19h0M238.16 524.61h0M238.36 525.03h0M238.56 525.45h0M238.76 525.87h0M238.96 526.29h0M239.16 526.71h0M239.35 527.12h0M239.55 527.53h0M239.74 527.93h0M239.94 528.33h0M240.13 528.72h0M240.33 529.1h0M240.52 529.47h0M240.71 529.83h0M240.9 530.18h0M241.09 530.53h0M241.28 530.88h0M241.47 531.23h0M241.66 531.57h0M241.84 531.92h0M242.03 532.26h0M242.22 532.59h0M242.4 532.92h0M242.58 533.25h0M242.77 533.57h0M242.95 533.89h0M243.13 534.2h0M243.32 534.5h0M243.5 534.8h0M243.68 535.08h0M243.86 535.36h0M244.04 535.64h0M244.21 535.9h0M244.39 536.15h0M244.57 536.4h0M244.75 536.63h0M244.92 536.86h0M245.1 537.08h0M245.27 537.31h0M245.45 537.53h0M245.62 537.75h0M245.79 537.97h0M245.97 538.19h0M246.14 538.41h0M246.31 538.62h0M246.48 538.83h0M246.65 539.03h0M246.82 539.24h0M246.99 539.43h0M247.16 539.63h0M247.32 539.82h0M247.49 540h0M247.66 540.18h0M247.82 540.35h0M247.99 540.52h0M248.15 540.68h0M248.32 540.83h0M248.48 540.98h0M248.65 541.12h0M248.81 541.25h0M248.97 541.38h0M249.13 541.5h0M249.29 541.61h0M249.46 541.71h0M249.62 541.81h0M249.78 541.89h0M249.93 541.97h0M250.09 542.04h0M250.25 542.11h0M250.41 542.18h0M250.57 542.24h0M250.72 542.31h0M250.88 542.37h0M251.04 542.44h0M251.19 542.5h0M251.35 542.56h0M251.5 542.62h0M251.65 542.68h0M251.81 542.74h0M251.96 542.79h0M252.11 542.85h0M252.26 542.9h0M252.42 542.96h0M252.57 543.01h0M252.72 543.06h0M252.87 543.11h0M253.02 543.16h0M253.17 543.21h0M253.32 543.26h0M253.46 543.3h0M253.61 543.35h0M253.76 543.39h0M253.91 543.43h0M254.05 543.47h0M254.2 543.51h0M254.35 543.55h0M254.49 543.59h0M254.64 543.63h0M254.78 543.66h0M254.92 543.69h0M255.07 543.73h0M255.21 543.76h0M255.35 543.79h0M255.5 543.81h0M255.64 543.84h0M255.78 543.87h0M255.92 543.89h0M256.06 543.92h0M256.2 543.94h0M256.34 543.96h0M256.48 543.98h0M256.62 544h0M256.76 544.01h0M256.9 544.03h0M257.04 544.04h0M257.18 544.05h0M257.31 544.06h0M257.45 544.07h0M257.59 544.08h0M257.72 544.09h0M257.86 544.1h0M258 544.1h0M258.13 544.1h0M258.27 544.11h0M258.4 544.11h0M258.53 544.11h0M258.67 544.12h0M258.8 544.12h0M258.93 544.12h0M259.07 544.13h0M259.2 544.13h0M259.33 544.13h0M259.46 544.14h0M259.59 544.14h0M259.72 544.14h0M259.86 544.14h0M259.99 544.15h0M260.12 544.15h0M260.25 544.15h0M260.37 544.15h0M260.5 544.16h0M260.63 544.16h0M260.76 544.16h0M260.89 544.16h0M261.02 544.17h0M261.14 544.17h0M261.27 544.17h0M261.4 544.17h0M261.52 544.17h0M261.65 544.18h0M261.78 544.18h0M261.9 544.18h0M262.03 544.18h0M262.15 544.18h0M262.27 544.18h0M262.4 544.18h0M262.52 544.19h0M262.65 544.19h0M262.77 544.19h0M262.89 544.19h0M263.02 544.19h0M263.14 544.19h0M263.26 544.19h0M263.38 544.19h0M263.5 544.19h0M263.62 544.2h0M263.74 544.2h0M263.87 544.2h0M263.99 544.2h0M264.11 544.2h0M264.23 544.2h0M264.34 544.2h0M264.46 544.2h0M264.58 544.2h0M264.7 544.2h0M264.82 544.2h0M264.94 544.2h0M265.06 544.2h0M265.17 544.2h0M265.29 544.2h0M265.41 544.2h0M265.52 544.2h0M265.64 544.2h0M265.76 544.2h0M265.87 544.2h0M265.99 544.2h0M266.1 544.2h0M266.22 544.2h0M266.33 544.2h0M266.45 544.2h0M266.56 544.2h0M266.68 544.2h0M266.79 544.2h0M266.9 544.2h0M267.02 544.2h0M267.13 544.2h0M267.24 544.2h0M267.35 544.2h0M267.47 544.2h0M267.58 544.2h0M267.69 544.2h0" stroke="#00b050" stroke-width="4.3" stroke-linecap="round" fill="none"/>
<path d="M267.75 544.2H342.57" stroke="#00b050" stroke-width="4.3" stroke-linecap="round"/>
<path d="M563 517.45L563.49 517.96L563.98 518.43L564.47 518.86L564.96 519.24L565.45 519.56L565.94 519.82L566.43 520.58L566.92 521.4L567.42 522.19L567.91 522.96L568.4 523.69L568.89 524.4L569.38 525.06L569.87 525.69L570.36 526.27L570.85 526.8L571.34 527.28L571.83 527.72L572.32 528.11L572.81 528.47L573.3 528.8L573.79 529.11L574.28 529.4L574.77 529.69L575.26 530L575.75 530.33L576.25 530.68L576.74 531.04L577.23 531.42L577.72 531.83L578.21 532.27L578.7 532.73L579.19 533.21L579.68 533.69L580.17 534.18L580.66 534.67L581.15 535.14L581.64 535.6L582.13 536.04L582.62 536.44L583.11 536.86L583.6 537.4L584.09 537.94L584.58 538.46L585.08 538.97L585.57 539.47L586.06 539.96L586.55 540.46L587.04 541.28L587.53 542.07L588.02 542.84L588.51 543.59L589 544.31L589 544.31L588.51 544.17L588.02 544.02L587.53 543.84L587.04 543.63L586.55 543.4L586.06 543.16L585.57 542.9L585.08 542.62L584.58 542.33L584.09 542.03L583.6 541.73L583.11 541.41L582.62 541.05L582.13 540.66L581.64 540.24L581.15 539.79L580.66 539.33L580.17 538.85L579.68 538.38L579.19 537.9L578.7 537.44L578.21 536.99L577.72 536.56L577.23 536.16L576.74 535.79L576.25 535.45L575.75 535.12L575.26 534.79L574.77 534.48L574.28 534.16L573.79 533.83L573.3 533.49L572.81 533.12L572.32 532.73L571.83 532.3L571.34 531.84L570.85 531.33L570.36 530.76L569.87 530.15L569.38 529.49L568.89 528.79L568.4 528.05L567.91 527.29L567.42 526.49L566.92 525.66L566.43 524.81L565.94 523.94L565.45 522.99L564.96 521.99L564.47 520.92L563.98 519.81L563.49 518.65L563 517.45Z" fill="#1a1a1a"/>
<path d="M544.5 370L544.98 368.16L545.46 366.33L545.94 364.74L546.42 364.02L546.9 363.89L547.38 364.29L547.85 366.1L548.33 368.4L548.81 370.91L549.29 373.71L549.77 377.45L550.25 382.24L550.73 386.71L551.21 390.78L551.69 394.62L552.17 398.63L552.65 403.17L553.12 407.62L553.6 411.94L554.08 416.3L554.56 421.43L555.04 426.29L555.52 430.94L556 435.46L556 435.46L555.52 433.58L555.04 431.56L554.56 429.33L554.08 426.84L553.6 424.13L553.12 421.24L552.65 418.23L552.17 415.13L551.69 411.87L551.21 408.41L550.73 404.73L550.25 400.64L549.77 396.23L549.29 392.39L548.81 388.88L548.33 385.65L547.85 382.63L547.38 379.7L546.9 377.07L546.42 374.96L545.94 373.36L545.46 372.08L544.98 371.03L544.5 370Z" fill="#505050"/>
<path d="M506.77 544.42V545.78M507.66 544.14V545.68M508.53 543.82V545.53M509.39 543.47V545.35M510.24 543.08V545.14M511.07 542.52V544.77M511.88 541.81V544.26M512.69 541.01V543.66M513.48 540.11V542.94M514.25 538.93V541.95M515.02 536.95V540.15M515.77 533.65V537.04M516.51 530.24V533.8M517.25 527.55V531.29M517.97 525.17V529.08M518.68 522.77V526.85M519.38 520.07V524.32M520.07 516.83V521.24M520.75 513.36V517.82M521.42 510.03V514.54M522.08 506.94V511.5M522.73 503.16V507.78M523.38 496.91V501.58M524.01 490.41V495.13M524.64 485.15V489.92M525.26 480.24V485.06M525.87 475.17V480.04M526.48 469.53V474.45M527.08 463.54V468.51M527.67 457.79V462.8M528.25 452.76V457.82M528.83 448.28V453.38M529.4 443.95V449.1M529.96 439.41V444.61M530.52 434.47V439.74M531.07 429.36V434.7M531.61 424.35V429.76M532.15 419.68V425.16M532.68 415.32V420.87M533.21 411.07V416.7M533.73 407.12V412.82M534.24 403.63V409.39M534.75 400.67V406.51M535.26 397.97V403.87M535.76 395.57V401.53M536.25 393.54V399.63M536.74 391.98V398.22M537.23 390.56V396.97M537.71 389.27V395.84M538.19 388.25V394.98M538.66 387.63V394.52M539.12 387.6V394.56M539.59 388.31V395.11M540.04 389.44V396.09M540.5 390.79V397.29M540.95 392.17V398.53M541.39 393.54V399.75M541.83 395.08V401.13M542.27 396.82V402.68M542.7 398.76V404.4M543.13 400.9V406.33M543.56 403.32V408.54M543.98 406.54V411.55M544.4 410.31V415.11M544.82 414.21V418.8M545.23 417.82V422.2M545.64 420.79V424.98M546.04 423.4V427.4M546.44 425.76V429.71M546.84 427.97V431.87M547.24 430.07V433.93M547.63 432.11V435.93M548.02 434.13V437.9M548.4 436.15V439.87M548.78 438.09V441.77M549.16 439.91V443.54M549.54 441.67V445.27M549.91 443.47V447.02M550.29 445.35V448.86M550.65 447.4V450.87M551.02 449.67V453.1M551.38 452.18V455.56M551.74 454.9V458.24M552.1 457.8V461.1M552.46 460.87V464.13M552.81 464.48V467.7M553.16 468.52V471.71M553.51 472.55V475.7M553.85 476.15V479.25M554.19 478.94V482M554.53 481.26V484.29M554.87 483.36V486.34M555.21 485.26V488.21M555.54 487.02V489.93M555.87 488.68V491.55M556.2 490.27V493.1M556.53 491.83V494.62M556.85 493.39V496.15M557.17 494.99V497.71M557.49 496.59V499.27M557.81 498.17V500.82M558.13 499.72V502.33M558.44 501.22V503.8M558.75 502.68V505.22M559.06 504.06V506.57M559.37 505.38V507.85M559.68 506.6V509.04M559.98 507.74V510.14M560.28 508.77V511.16M560.58 509.74V512.12M560.88 510.65V513.03M561.18 511.52V513.89M561.48 512.35V514.71M561.77 513.14V515.49M562.06 513.91V516.25M562.35 514.65V516.99M562.64 515.38V517.71M562.92 516.1V518.43M563.21 516.81V519.12M563.49 517.5V519.81M563.77 518.17V520.47M564.05 518.83V521.12M564.33 519.47V521.75M564.61 520.09V522.37M564.88 520.69V522.96M565.16 521.27V523.53M565.43 521.82V524.08M565.7 522.36V524.6M565.97 522.87V525.11M566.24 523.35V525.58M566.5 523.82V526.05M566.77 524.28V526.5M567.03 524.74V526.95M567.29 525.18V527.39M567.56 525.62V527.82M567.81 526.04V528.23M568.07 526.46V528.64M568.33 526.86V529.04M568.58 527.25V529.43M568.84 527.64V529.8M569.09 528.01V530.16M569.34 528.36V530.51M569.59 528.71V530.85M569.84 529.04V531.18M570.09 529.36V531.49M570.33 529.67V531.79M570.58 529.96V532.08M570.82 530.24V532.35M571.06 530.51V532.61M571.31 530.76V532.86M571.55 531V533.09M571.79 531.22V533.31M572.02 531.44V533.52M572.26 531.64V533.72M572.5 531.84V533.91M572.73 532.03V534.09M572.96 532.21V534.26M573.2 532.38V534.43M573.43 532.55V534.6M573.66 532.72V534.75M573.88 532.88V534.91M574.11 533.03V535.06M574.34 533.19V535.2M574.57 533.34V535.35M574.79 533.48V535.49M575.01 533.63V535.63M575.24 533.79V535.76M575.46 533.95V535.89M575.68 534.11V536.02M575.9 534.27V536.15M576.12 534.43V536.28M576.33 534.6V536.42M576.55 534.76V536.56M576.77 534.93V536.7M576.98 535.11V536.84M577.2 535.29V536.99M577.41 535.47V537.15M577.62 535.66V537.31M577.83 535.85V537.47M578.04 536.04V537.64M578.25 536.24V537.81M578.46 536.45V537.99M578.67 536.65V538.16M578.87 536.86V538.34M579.08 537.07V538.53M579.29 537.28V538.71M579.49 537.49V538.89M579.69 537.7V539.08M579.9 537.91V539.26M580.1 538.12V539.44M580.3 538.33V539.62M580.5 538.54V539.8M580.7 538.74V539.98M580.9 538.94V540.16M511.07 544.72V545.94M511.88 544.62V545.99M512.69 544.5V546.03M513.48 544.35V546.05M514.25 544.18V546.03M515.02 543.98V545.99M515.77 543.68V546.01M516.51 543.33V545.98M517.25 542.85V545.82M517.97 542.26V545.53M518.68 541.56V545.13M519.38 540.49V544.36M520.07 539.13V543.3M520.75 537.68V542.14M521.42 536.19V540.94M522.08 534.59V539.6M522.73 532.94V538.07M523.38 531.15V536.39M524.01 529.21V534.56M524.64 527.02V532.48M525.26 524.41V529.98M525.87 521.6V527.28M526.48 518.79V524.58M527.08 515.89V521.78M527.67 512.93V518.93M528.25 510.05V516.14M528.83 507.46V513.65M529.4 504.77V511.06M529.96 501.4V507.8M530.52 496.39V502.86M531.07 490.79V497.33M531.61 485.42V492.04M532.15 479.98V486.67M532.68 474.35V481.1M533.21 468.41V475.23M533.73 462.08V468.98M534.24 455.48V462.45M534.75 448.74V455.77M535.26 441.85V448.95M535.76 434.07V441.23M536.25 424.59V432.4M536.74 414.76V423.75M537.23 404.53V414.68M537.71 397.28V408.58M538.19 393.16V405.9M538.66 387.07V401.69M539.12 378.45V394.94M539.59 371.5V389.84M540.04 365.77V385.94M540.5 362.1V384.15M540.95 359.54V383.45M541.39 357.25V383.01M541.83 355.27V382.85M542.27 353.62V383.01M542.7 352.35V383.54M543.13 352.24V383.68M543.56 353.12V383.55M543.98 354.27V383.69M544.4 355.58V384M544.82 356.96V384.4M545.23 358.34V384.77M545.64 359.81V385.22M546.04 361.48V385.88M546.44 363.36V386.75M546.84 365.6V388M547.24 368.19V389.6M547.63 371V391.44M548.02 373.91V393.38M548.4 376.84V395.33M548.78 379.91V397.45M549.16 383.09V399.77M549.54 386.37V402.29M549.91 389.94V405.11M550.29 393.75V408.18M550.65 397.29V410.98M551.02 400.51V413.48M551.38 403.48V415.91M551.74 406.31V418.2M552.1 409.01V420.36M552.46 411.6V422.42M552.81 414.12V424.41M553.16 416.55V426.34M553.51 418.88V428.21M553.85 421.11V429.98M554.19 423.23V431.63M554.53 425.21V433.16M554.87 427.05V434.55M555.21 428.75V435.81M555.54 430.34V436.96M555.87 431.87V438.04M556.2 433.28V439.18M556.53 434.62V440.36M556.85 435.94V441.52M557.17 437.23V442.65M557.49 438.48V443.73M557.81 439.66V444.75M558.13 440.78V445.71M558.44 441.86V446.64M558.75 442.91V447.53M559.06 443.92V448.39M559.37 444.9V449.22M559.68 445.85V450.01M559.98 446.77V450.78M560.28 447.6V451.58M560.58 448.4V452.36M560.88 449.16V453.1M561.18 449.88V453.8M561.48 450.58V454.48M561.77 451.26V455.15M562.06 451.93V455.79M562.35 452.59V456.43M562.64 453.25V457.07M562.92 453.91V457.71M563.21 454.58V458.36M563.49 455.26V459.02M563.77 455.95V459.7M564.05 456.64V460.37M564.33 457.32V461.03M564.61 458V461.69M564.88 458.68V462.36M565.16 459.37V463.03M565.43 460.06V463.7M565.7 460.76V464.38M565.97 461.48V465.08M566.24 462.2V465.79M566.5 462.95V466.51M566.77 463.71V467.26M567.03 464.52V468.05M567.29 465.35V468.87M567.56 466.21V469.7M567.81 467.07V470.55M568.07 467.93V471.39M568.33 468.78V472.22M568.58 469.6V473.03M568.84 470.4V473.82M569.09 471.16V474.55M569.34 471.84V475.22M569.59 472.48V475.84M569.84 473.09V476.43M570.09 473.7V477.02M570.33 474.32V477.63M570.58 474.99V478.28M570.82 475.7V478.98M571.06 476.5V479.76M571.31 477.39V480.63M571.55 478.4V481.63M571.79 479.88V483.09M572.02 481.63V484.83M572.26 483.19V486.38M572.5 484.38V487.55M572.73 485.47V488.62M572.96 486.47V489.61M573.2 487.42V490.54M573.43 488.31V491.41M573.66 489.16V492.25M573.88 489.98V493.06M574.11 490.79V493.85M574.34 491.59V494.63M574.57 492.4V495.43M574.79 493.22V496.24M575.01 494.04V497.04M575.24 494.87V497.82M575.46 495.69V498.59M575.68 496.49V499.36M575.9 497.3V500.12M576.12 498.09V500.86M576.33 498.87V501.6M576.55 499.65V502.34M576.77 500.41V503.06M576.98 501.17V503.77M577.2 501.92V504.48M577.41 502.66V505.18M577.62 503.39V505.87M577.83 504.12V506.55M578.04 504.83V507.22M578.25 505.54V507.89M578.46 506.24V508.54M578.67 506.92V509.19M578.87 507.6V509.83M579.08 508.28V510.46M579.29 508.94V511.08M579.49 509.59V511.69M579.69 510.24V512.3M579.9 510.87V512.89M580.1 511.5V513.48M580.3 512.12V514.06M580.5 512.74V514.64M580.7 513.35V515.22M580.9 513.96V515.79M581.09 514.57V516.35M581.29 515.17V516.91M581.49 515.77V517.47M581.68 516.36V518.03M581.88 516.95V518.57M582.07 517.53V519.12M582.26 518.11V519.66M582.45 518.68V520.19M582.65 519.25V520.72M582.84 519.81V521.24M583.03 520.36V521.75M583.21 520.91V522.26M583.4 521.45V522.77M583.59 521.98V523.27M583.78 522.51V523.76M583.96 523.03V524.24" stroke="#5a5a5a" stroke-width="0.8" fill="none"/>
<path d="M505.57 544.42h2.4M505.57 545.78h2.4M506.46 544.14h2.4M506.46 545.68h2.4M507.33 543.82h2.4M507.33 545.53h2.4M508.19 543.47h2.4M508.19 545.35h2.4M509.04 543.08h2.4M509.04 545.14h2.4M509.87 542.52h2.4M509.87 544.77h2.4M510.68 541.81h2.4M510.68 544.26h2.4M511.49 541.01h2.4M511.49 543.66h2.4M512.28 540.11h2.4M512.28 542.94h2.4M513.05 538.93h2.4M513.05 541.95h2.4M513.82 536.95h2.4M513.82 540.15h2.4M514.57 533.65h2.4M514.57 537.04h2.4M515.31 530.24h2.4M515.31 533.8h2.4M516.05 527.55h2.4M516.05 531.29h2.4M516.77 525.17h2.4M516.77 529.08h2.4M517.48 522.77h2.4M517.48 526.85h2.4M518.18 520.07h2.4M518.18 524.32h2.4M518.87 516.83h2.4M518.87 521.24h2.4M519.55 513.36h2.4M519.55 517.82h2.4M520.22 510.03h2.4M520.22 514.54h2.4M520.88 506.94h2.4M520.88 511.5h2.4M521.53 503.16h2.4M521.53 507.78h2.4M522.18 496.91h2.4M522.18 501.58h2.4M522.81 490.41h2.4M522.81 495.13h2.4M523.44 485.15h2.4M523.44 489.92h2.4M524.06 480.24h2.4M524.06 485.06h2.4M524.67 475.17h2.4M524.67 480.04h2.4M525.28 469.53h2.4M525.28 474.45h2.4M525.88 463.54h2.4M525.88 468.51h2.4M526.47 457.79h2.4M526.47 462.8h2.4M527.05 452.76h2.4M527.05 457.82h2.4M527.63 448.28h2.4M527.63 453.38h2.4M528.2 443.95h2.4M528.2 449.1h2.4M528.76 439.41h2.4M528.76 444.61h2.4M529.32 434.47h2.4M529.32 439.74h2.4M529.87 429.36h2.4M529.87 434.7h2.4M530.41 424.35h2.4M530.41 429.76h2.4M530.95 419.68h2.4M530.95 425.16h2.4M531.48 415.32h2.4M531.48 420.87h2.4M532.01 411.07h2.4M532.01 416.7h2.4M532.53 407.12h2.4M532.53 412.82h2.4M533.04 403.63h2.4M533.04 409.39h2.4M533.55 400.67h2.4M533.55 406.51h2.4M534.06 397.97h2.4M534.06 403.87h2.4M534.56 395.57h2.4M534.56 401.53h2.4M535.05 393.54h2.4M535.05 399.63h2.4M535.54 391.98h2.4M535.54 398.22h2.4M536.03 390.56h2.4M536.03 396.97h2.4M536.51 389.27h2.4M536.51 395.84h2.4M536.99 388.25h2.4M536.99 394.98h2.4M537.46 387.63h2.4M537.46 394.52h2.4M537.92 387.6h2.4M537.92 394.56h2.4M538.39 388.31h2.4M538.39 395.11h2.4M538.84 389.44h2.4M538.84 396.09h2.4M539.3 390.79h2.4M539.3 397.29h2.4M539.75 392.17h2.4M539.75 398.53h2.4M540.19 393.54h2.4M540.19 399.75h2.4M540.63 395.08h2.4M540.63 401.13h2.4M541.07 396.82h2.4M541.07 402.68h2.4M541.5 398.76h2.4M541.5 404.4h2.4M541.93 400.9h2.4M541.93 406.33h2.4M542.36 403.32h2.4M542.36 408.54h2.4M542.78 406.54h2.4M542.78 411.55h2.4M543.2 410.31h2.4M543.2 415.11h2.4M543.62 414.21h2.4M543.62 418.8h2.4M544.03 417.82h2.4M544.03 422.2h2.4M544.44 420.79h2.4M544.44 424.98h2.4M544.84 423.4h2.4M544.84 427.4h2.4M545.24 425.76h2.4M545.24 429.71h2.4M545.64 427.97h2.4M545.64 431.87h2.4M546.04 430.07h2.4M546.04 433.93h2.4M546.43 432.11h2.4M546.43 435.93h2.4M546.82 434.13h2.4M546.82 437.9h2.4M547.2 436.15h2.4M547.2 439.87h2.4M547.58 438.09h2.4M547.58 441.77h2.4M547.96 439.91h2.4M547.96 443.54h2.4M548.34 441.67h2.4M548.34 445.27h2.4M548.71 443.47h2.4M548.71 447.02h2.4M549.09 445.35h2.4M549.09 448.86h2.4M549.45 447.4h2.4M549.45 450.87h2.4M549.82 449.67h2.4M549.82 453.1h2.4M550.18 452.18h2.4M550.18 455.56h2.4M550.54 454.9h2.4M550.54 458.24h2.4M550.9 457.8h2.4M550.9 461.1h2.4M551.26 460.87h2.4M551.26 464.13h2.4M551.61 464.48h2.4M551.61 467.7h2.4M551.96 468.52h2.4M551.96 471.71h2.4M552.31 472.55h2.4M552.31 475.7h2.4M552.65 476.15h2.4M552.65 479.25h2.4M552.99 478.94h2.4M552.99 482h2.4M553.33 481.26h2.4M553.33 484.29h2.4M553.67 483.36h2.4M553.67 486.34h2.4M554.01 485.26h2.4M554.01 488.21h2.4M554.34 487.02h2.4M554.34 489.93h2.4M554.67 488.68h2.4M554.67 491.55h2.4M555 490.27h2.4M555 493.1h2.4M555.33 491.83h2.4M555.33 494.62h2.4M555.65 493.39h2.4M555.65 496.15h2.4M555.97 494.99h2.4M555.97 497.71h2.4M556.29 496.59h2.4M556.29 499.27h2.4M556.61 498.17h2.4M556.61 500.82h2.4M556.93 499.72h2.4M556.93 502.33h2.4M557.24 501.22h2.4M557.24 503.8h2.4M557.55 502.68h2.4M557.55 505.22h2.4M557.86 504.06h2.4M557.86 506.57h2.4M558.17 505.38h2.4M558.17 507.85h2.4M558.48 506.6h2.4M558.48 509.04h2.4M558.78 507.74h2.4M558.78 510.14h2.4M559.08 508.77h2.4M559.08 511.16h2.4M559.38 509.74h2.4M559.38 512.12h2.4M559.68 510.65h2.4M559.68 513.03h2.4M559.98 511.52h2.4M559.98 513.89h2.4M560.28 512.35h2.4M560.28 514.71h2.4M560.57 513.14h2.4M560.57 515.49h2.4M560.86 513.91h2.4M560.86 516.25h2.4M561.15 514.65h2.4M561.15 516.99h2.4M561.44 515.38h2.4M561.44 517.71h2.4M561.72 516.1h2.4M561.72 518.43h2.4M562.01 516.81h2.4M562.01 519.12h2.4M562.29 517.5h2.4M562.29 519.81h2.4M562.57 518.17h2.4M562.57 520.47h2.4M562.85 518.83h2.4M562.85 521.12h2.4M563.13 519.47h2.4M563.13 521.75h2.4M563.41 520.09h2.4M563.41 522.37h2.4M563.68 520.69h2.4M563.68 522.96h2.4M563.96 521.27h2.4M563.96 523.53h2.4M564.23 521.82h2.4M564.23 524.08h2.4M564.5 522.36h2.4M564.5 524.6h2.4M564.77 522.87h2.4M564.77 525.11h2.4M565.04 523.35h2.4M565.04 525.58h2.4M565.3 523.82h2.4M565.3 526.05h2.4M565.57 524.28h2.4M565.57 526.5h2.4M565.83 524.74h2.4M565.83 526.95h2.4M566.09 525.18h2.4M566.09 527.39h2.4M566.36 525.62h2.4M566.36 527.82h2.4M566.61 526.04h2.4M566.61 528.23h2.4M566.87 526.46h2.4M566.87 528.64h2.4M567.13 526.86h2.4M567.13 529.04h2.4M567.38 527.25h2.4M567.38 529.43h2.4M567.64 527.64h2.4M567.64 529.8h2.4M567.89 528.01h2.4M567.89 530.16h2.4M568.14 528.36h2.4M568.14 530.51h2.4M568.39 528.71h2.4M568.39 530.85h2.4M568.64 529.04h2.4M568.64 531.18h2.4M568.89 529.36h2.4M568.89 531.49h2.4M569.13 529.67h2.4M569.13 531.79h2.4M569.38 529.96h2.4M569.38 532.08h2.4M569.62 530.24h2.4M569.62 532.35h2.4M569.86 530.51h2.4M569.86 532.61h2.4M570.11 530.76h2.4M570.11 532.86h2.4M570.35 531h2.4M570.35 533.09h2.4M570.59 531.22h2.4M570.59 533.31h2.4M570.82 531.44h2.4M570.82 533.52h2.4M571.06 531.64h2.4M571.06 533.72h2.4M571.3 531.84h2.4M571.3 533.91h2.4M571.53 532.03h2.4M571.53 534.09h2.4M571.76 532.21h2.4M571.76 534.26h2.4M572 532.38h2.4M572 534.43h2.4M572.23 532.55h2.4M572.23 534.6h2.4M572.46 532.72h2.4M572.46 534.75h2.4M572.68 532.88h2.4M572.68 534.91h2.4M572.91 533.03h2.4M572.91 535.06h2.4M573.14 533.19h2.4M573.14 535.2h2.4M573.37 533.34h2.4M573.37 535.35h2.4M573.59 533.48h2.4M573.59 535.49h2.4M573.81 533.63h2.4M573.81 535.63h2.4M574.04 533.79h2.4M574.04 535.76h2.4M574.26 533.95h2.4M574.26 535.89h2.4M574.48 534.11h2.4M574.48 536.02h2.4M574.7 534.27h2.4M574.7 536.15h2.4M574.92 534.43h2.4M574.92 536.28h2.4M575.13 534.6h2.4M575.13 536.42h2.4M575.35 534.76h2.4M575.35 536.56h2.4M575.57 534.93h2.4M575.57 536.7h2.4M575.78 535.11h2.4M575.78 536.84h2.4M576 535.29h2.4M576 536.99h2.4M576.21 535.47h2.4M576.21 537.15h2.4M576.42 535.66h2.4M576.42 537.31h2.4M576.63 535.85h2.4M576.63 537.47h2.4M576.84 536.04h2.4M576.84 537.64h2.4M577.05 536.24h2.4M577.05 537.81h2.4M577.26 536.45h2.4M577.26 537.99h2.4M577.47 536.65h2.4M577.47 538.16h2.4M577.67 536.86h2.4M577.67 538.34h2.4M577.88 537.07h2.4M577.88 538.53h2.4M578.09 537.28h2.4M578.09 538.71h2.4M578.29 537.49h2.4M578.29 538.89h2.4M578.49 537.7h2.4M578.49 539.08h2.4M578.7 537.91h2.4M578.7 539.26h2.4M578.9 538.12h2.4M578.9 539.44h2.4M579.1 538.33h2.4M579.1 539.62h2.4M579.3 538.54h2.4M579.3 539.8h2.4M579.5 538.74h2.4M579.5 539.98h2.4M579.7 538.94h2.4M579.7 540.16h2.4M509.87 544.72h2.4M509.87 545.94h2.4M510.68 544.62h2.4M510.68 545.99h2.4M511.49 544.5h2.4M511.49 546.03h2.4M512.28 544.35h2.4M512.28 546.05h2.4M513.05 544.18h2.4M513.05 546.03h2.4M513.82 543.98h2.4M513.82 545.99h2.4M514.57 543.68h2.4M514.57 546.01h2.4M515.31 543.33h2.4M515.31 545.98h2.4M516.05 542.85h2.4M516.05 545.82h2.4M516.77 542.26h2.4M516.77 545.53h2.4M517.48 541.56h2.4M517.48 545.13h2.4M518.18 540.49h2.4M518.18 544.36h2.4M518.87 539.13h2.4M518.87 543.3h2.4M519.55 537.68h2.4M519.55 542.14h2.4M520.22 536.19h2.4M520.22 540.94h2.4M520.88 534.59h2.4M520.88 539.6h2.4M521.53 532.94h2.4M521.53 538.07h2.4M522.18 531.15h2.4M522.18 536.39h2.4M522.81 529.21h2.4M522.81 534.56h2.4M523.44 527.02h2.4M523.44 532.48h2.4M524.06 524.41h2.4M524.06 529.98h2.4M524.67 521.6h2.4M524.67 527.28h2.4M525.28 518.79h2.4M525.28 524.58h2.4M525.88 515.89h2.4M525.88 521.78h2.4M526.47 512.93h2.4M526.47 518.93h2.4M527.05 510.05h2.4M527.05 516.14h2.4M527.63 507.46h2.4M527.63 513.65h2.4M528.2 504.77h2.4M528.2 511.06h2.4M528.76 501.4h2.4M528.76 507.8h2.4M529.32 496.39h2.4M529.32 502.86h2.4M529.87 490.79h2.4M529.87 497.33h2.4M530.41 485.42h2.4M530.41 492.04h2.4M530.95 479.98h2.4M530.95 486.67h2.4M531.48 474.35h2.4M531.48 481.1h2.4M532.01 468.41h2.4M532.01 475.23h2.4M532.53 462.08h2.4M532.53 468.98h2.4M533.04 455.48h2.4M533.04 462.45h2.4M533.55 448.74h2.4M533.55 455.77h2.4M534.06 441.85h2.4M534.06 448.95h2.4M534.56 434.07h2.4M534.56 441.23h2.4M535.05 424.59h2.4M535.05 432.4h2.4M535.54 414.76h2.4M535.54 423.75h2.4M536.03 404.53h2.4M536.03 414.68h2.4M536.51 397.28h2.4M536.51 408.58h2.4M536.99 393.16h2.4M536.99 405.9h2.4M537.46 387.07h2.4M537.46 401.69h2.4M537.92 378.45h2.4M537.92 394.94h2.4M538.39 371.5h2.4M538.39 389.84h2.4M538.84 365.77h2.4M538.84 385.94h2.4M539.3 362.1h2.4M539.3 384.15h2.4M539.75 359.54h2.4M539.75 383.45h2.4M540.19 357.25h2.4M540.19 383.01h2.4M540.63 355.27h2.4M540.63 382.85h2.4M541.07 353.62h2.4M541.07 383.01h2.4M541.5 352.35h2.4M541.5 383.54h2.4M541.93 352.24h2.4M541.93 383.68h2.4M542.36 353.12h2.4M542.36 383.55h2.4M542.78 354.27h2.4M542.78 383.69h2.4M543.2 355.58h2.4M543.2 384h2.4M543.62 356.96h2.4M543.62 384.4h2.4M544.03 358.34h2.4M544.03 384.77h2.4M544.44 359.81h2.4M544.44 385.22h2.4M544.84 361.48h2.4M544.84 385.88h2.4M545.24 363.36h2.4M545.24 386.75h2.4M545.64 365.6h2.4M545.64 388h2.4M546.04 368.19h2.4M546.04 389.6h2.4M546.43 371h2.4M546.43 391.44h2.4M546.82 373.91h2.4M546.82 393.38h2.4M547.2 376.84h2.4M547.2 395.33h2.4M547.58 379.91h2.4M547.58 397.45h2.4M547.96 383.09h2.4M547.96 399.77h2.4M548.34 386.37h2.4M548.34 402.29h2.4M548.71 389.94h2.4M548.71 405.11h2.4M549.09 393.75h2.4M549.09 408.18h2.4M549.45 397.29h2.4M549.45 410.98h2.4M549.82 400.51h2.4M549.82 413.48h2.4M550.18 403.48h2.4M550.18 415.91h2.4M550.54 406.31h2.4M550.54 418.2h2.4M550.9 409.01h2.4M550.9 420.36h2.4M551.26 411.6h2.4M551.26 422.42h2.4M551.61 414.12h2.4M551.61 424.41h2.4M551.96 416.55h2.4M551.96 426.34h2.4M552.31 418.88h2.4M552.31 428.21h2.4M552.65 421.11h2.4M552.65 429.98h2.4M552.99 423.23h2.4M552.99 431.63h2.4M553.33 425.21h2.4M553.33 433.16h2.4M553.67 427.05h2.4M553.67 434.55h2.4M554.01 428.75h2.4M554.01 435.81h2.4M554.34 430.34h2.4M554.34 436.96h2.4M554.67 431.87h2.4M554.67 438.04h2.4M555 433.28h2.4M555 439.18h2.4M555.33 434.62h2.4M555.33 440.36h2.4M555.65 435.94h2.4M555.65 441.52h2.4M555.97 437.23h2.4M555.97 442.65h2.4M556.29 438.48h2.4M556.29 443.73h2.4M556.61 439.66h2.4M556.61 444.75h2.4M556.93 440.78h2.4M556.93 445.71h2.4M557.24 441.86h2.4M557.24 446.64h2.4M557.55 442.91h2.4M557.55 447.53h2.4M557.86 443.92h2.4M557.86 448.39h2.4M558.17 444.9h2.4M558.17 449.22h2.4M558.48 445.85h2.4M558.48 450.01h2.4M558.78 446.77h2.4M558.78 450.78h2.4M559.08 447.6h2.4M559.08 451.58h2.4M559.38 448.4h2.4M559.38 452.36h2.4M559.68 449.16h2.4M559.68 453.1h2.4M559.98 449.88h2.4M559.98 453.8h2.4M560.28 450.58h2.4M560.28 454.48h2.4M560.57 451.26h2.4M560.57 455.15h2.4M560.86 451.93h2.4M560.86 455.79h2.4M561.15 452.59h2.4M561.15 456.43h2.4M561.44 453.25h2.4M561.44 457.07h2.4M561.72 453.91h2.4M561.72 457.71h2.4M562.01 454.58h2.4M562.01 458.36h2.4M562.29 455.26h2.4M562.29 459.02h2.4M562.57 455.95h2.4M562.57 459.7h2.4M562.85 456.64h2.4M562.85 460.37h2.4M563.13 457.32h2.4M563.13 461.03h2.4M563.41 458h2.4M563.41 461.69h2.4M563.68 458.68h2.4M563.68 462.36h2.4M563.96 459.37h2.4M563.96 463.03h2.4M564.23 460.06h2.4M564.23 463.7h2.4M564.5 460.76h2.4M564.5 464.38h2.4M564.77 461.48h2.4M564.77 465.08h2.4M565.04 462.2h2.4M565.04 465.79h2.4M565.3 462.95h2.4M565.3 466.51h2.4M565.57 463.71h2.4M565.57 467.26h2.4M565.83 464.52h2.4M565.83 468.05h2.4M566.09 465.35h2.4M566.09 468.87h2.4M566.36 466.21h2.4M566.36 469.7h2.4M566.61 467.07h2.4M566.61 470.55h2.4M566.87 467.93h2.4M566.87 471.39h2.4M567.13 468.78h2.4M567.13 472.22h2.4M567.38 469.6h2.4M567.38 473.03h2.4M567.64 470.4h2.4M567.64 473.82h2.4M567.89 471.16h2.4M567.89 474.55h2.4M568.14 471.84h2.4M568.14 475.22h2.4M568.39 472.48h2.4M568.39 475.84h2.4M568.64 473.09h2.4M568.64 476.43h2.4M568.89 473.7h2.4M568.89 477.02h2.4M569.13 474.32h2.4M569.13 477.63h2.4M569.38 474.99h2.4M569.38 478.28h2.4M569.62 475.7h2.4M569.62 478.98h2.4M569.86 476.5h2.4M569.86 479.76h2.4M570.11 477.39h2.4M570.11 480.63h2.4M570.35 478.4h2.4M570.35 481.63h2.4M570.59 479.88h2.4M570.59 483.09h2.4M570.82 481.63h2.4M570.82 484.83h2.4M571.06 483.19h2.4M571.06 486.38h2.4M571.3 484.38h2.4M571.3 487.55h2.4M571.53 485.47h2.4M571.53 488.62h2.4M571.76 486.47h2.4M571.76 489.61h2.4M572 487.42h2.4M572 490.54h2.4M572.23 488.31h2.4M572.23 491.41h2.4M572.46 489.16h2.4M572.46 492.25h2.4M572.68 489.98h2.4M572.68 493.06h2.4M572.91 490.79h2.4M572.91 493.85h2.4M573.14 491.59h2.4M573.14 494.63h2.4M573.37 492.4h2.4M573.37 495.43h2.4M573.59 493.22h2.4M573.59 496.24h2.4M573.81 494.04h2.4M573.81 497.04h2.4M574.04 494.87h2.4M574.04 497.82h2.4M574.26 495.69h2.4M574.26 498.59h2.4M574.48 496.49h2.4M574.48 499.36h2.4M574.7 497.3h2.4M574.7 500.12h2.4M574.92 498.09h2.4M574.92 500.86h2.4M575.13 498.87h2.4M575.13 501.6h2.4M575.35 499.65h2.4M575.35 502.34h2.4M575.57 500.41h2.4M575.57 503.06h2.4M575.78 501.17h2.4M575.78 503.77h2.4M576 501.92h2.4M576 504.48h2.4M576.21 502.66h2.4M576.21 505.18h2.4M576.42 503.39h2.4M576.42 505.87h2.4M576.63 504.12h2.4M576.63 506.55h2.4M576.84 504.83h2.4M576.84 507.22h2.4M577.05 505.54h2.4M577.05 507.89h2.4M577.26 506.24h2.4M577.26 508.54h2.4M577.47 506.92h2.4M577.47 509.19h2.4M577.67 507.6h2.4M577.67 509.83h2.4M577.88 508.28h2.4M577.88 510.46h2.4M578.09 508.94h2.4M578.09 511.08h2.4M578.29 509.59h2.4M578.29 511.69h2.4M578.49 510.24h2.4M578.49 512.3h2.4M578.7 510.87h2.4M578.7 512.89h2.4M578.9 511.5h2.4M578.9 513.48h2.4M579.1 512.12h2.4M579.1 514.06h2.4M579.3 512.74h2.4M579.3 514.64h2.4M579.5 513.35h2.4M579.5 515.22h2.4M579.7 513.96h2.4M579.7 515.79h2.4M579.89 514.57h2.4M579.89 516.35h2.4M580.09 515.17h2.4M580.09 516.91h2.4M580.29 515.77h2.4M580.29 517.47h2.4M580.48 516.36h2.4M580.48 518.03h2.4M580.68 516.95h2.4M580.68 518.57h2.4M580.87 517.53h2.4M580.87 519.12h2.4M581.06 518.11h2.4M581.06 519.66h2.4M581.25 518.68h2.4M581.25 520.19h2.4M581.45 519.25h2.4M581.45 520.72h2.4M581.64 519.81h2.4M581.64 521.24h2.4M581.83 520.36h2.4M581.83 521.75h2.4M582.01 520.91h2.4M582.01 522.26h2.4M582.2 521.45h2.4M582.2 522.77h2.4M582.39 521.98h2.4M582.39 523.27h2.4M582.58 522.51h2.4M582.58 523.76h2.4M582.76 523.03h2.4M582.76 524.24h2.4" stroke="#6a6a6a" stroke-width="0.8" fill="none"/>
<path d="M560.1 442.6L563.5 442.8L567.5 461L570 469L567 474.2L564.9 474L562.3 471.8L560.4 461.1L559.7 449.9Z" fill="#1a1a1a"/>
<path d="M508.53 542.43l2.25 2.25 -2.25 2.25 -2.25 -2.25zM509.39 542.16l2.25 2.25 -2.25 2.25 -2.25 -2.25zM510.24 541.86l2.25 2.25 -2.25 2.25 -2.25 -2.25zM511.07 541.4l2.25 2.25 -2.25 2.25 -2.25 -2.25zM511.88 540.78l2.25 2.25 -2.25 2.25 -2.25 -2.25zM512.69 540.08l2.25 2.25 -2.25 2.25 -2.25 -2.25zM513.48 539.28l2.25 2.25 -2.25 2.25 -2.25 -2.25zM514.25 538.19l2.25 2.25 -2.25 2.25 -2.25 -2.25zM515.02 536.3l2.25 2.25 -2.25 2.25 -2.25 -2.25zM515.77 533.1l2.25 2.25 -2.25 2.25 -2.25 -2.25zM516.51 529.77l2.25 2.25 -2.25 2.25 -2.25 -2.25zM517.25 527.17l2.25 2.25 -2.25 2.25 -2.25 -2.25zM517.97 524.88l2.25 2.25 -2.25 2.25 -2.25 -2.25zM518.68 522.56l2.25 2.25 -2.25 2.25 -2.25 -2.25zM519.38 519.94l2.25 2.25 -2.25 2.25 -2.25 -2.25zM520.07 516.78l2.25 2.25 -2.25 2.25 -2.25 -2.25zM520.75 513.34l2.25 2.25 -2.25 2.25 -2.25 -2.25zM521.42 510.04l2.25 2.25 -2.25 2.25 -2.25 -2.25zM522.08 506.97l2.25 2.25 -2.25 2.25 -2.25 -2.25zM522.73 503.22l2.25 2.25 -2.25 2.25 -2.25 -2.25zM523.38 497l2.25 2.25 -2.25 2.25 -2.25 -2.25zM524.01 490.52l2.25 2.25 -2.25 2.25 -2.25 -2.25zM524.64 485.29l2.25 2.25 -2.25 2.25 -2.25 -2.25zM525.26 480.4l2.25 2.25 -2.25 2.25 -2.25 -2.25zM525.87 475.36l2.25 2.25 -2.25 2.25 -2.25 -2.25zM526.48 469.74l2.25 2.25 -2.25 2.25 -2.25 -2.25zM527.08 463.77l2.25 2.25 -2.25 2.25 -2.25 -2.25zM527.67 458.04l2.25 2.25 -2.25 2.25 -2.25 -2.25zM528.25 453.04l2.25 2.25 -2.25 2.25 -2.25 -2.25zM528.83 448.58l2.25 2.25 -2.25 2.25 -2.25 -2.25zM529.4 444.27l2.25 2.25 -2.25 2.25 -2.25 -2.25zM529.96 439.76l2.25 2.25 -2.25 2.25 -2.25 -2.25zM530.52 434.86l2.25 2.25 -2.25 2.25 -2.25 -2.25zM531.07 429.78l2.25 2.25 -2.25 2.25 -2.25 -2.25zM531.61 424.8l2.25 2.25 -2.25 2.25 -2.25 -2.25zM532.15 420.17l2.25 2.25 -2.25 2.25 -2.25 -2.25zM532.68 415.85l2.25 2.25 -2.25 2.25 -2.25 -2.25zM533.21 411.64l2.25 2.25 -2.25 2.25 -2.25 -2.25zM533.73 407.72l2.25 2.25 -2.25 2.25 -2.25 -2.25zM534.24 404.26l2.25 2.25 -2.25 2.25 -2.25 -2.25zM534.75 401.34l2.25 2.25 -2.25 2.25 -2.25 -2.25zM535.26 398.67l2.25 2.25 -2.25 2.25 -2.25 -2.25zM535.76 396.3l2.25 2.25 -2.25 2.25 -2.25 -2.25zM536.25 394.33l2.25 2.25 -2.25 2.25 -2.25 -2.25zM536.74 392.85l2.25 2.25 -2.25 2.25 -2.25 -2.25zM537.23 391.51l2.25 2.25 -2.25 2.25 -2.25 -2.25zM537.71 390.3l2.25 2.25 -2.25 2.25 -2.25 -2.25zM538.19 389.36l2.25 2.25 -2.25 2.25 -2.25 -2.25zM538.66 388.83l2.25 2.25 -2.25 2.25 -2.25 -2.25zM539.12 388.83l2.25 2.25 -2.25 2.25 -2.25 -2.25zM539.59 389.46l2.25 2.25 -2.25 2.25 -2.25 -2.25zM540.04 390.51l2.25 2.25 -2.25 2.25 -2.25 -2.25zM540.5 391.79l2.25 2.25 -2.25 2.25 -2.25 -2.25zM540.95 393.1l2.25 2.25 -2.25 2.25 -2.25 -2.25zM541.39 394.4l2.25 2.25 -2.25 2.25 -2.25 -2.25zM541.83 395.86l2.25 2.25 -2.25 2.25 -2.25 -2.25zM542.27 397.5l2.25 2.25 -2.25 2.25 -2.25 -2.25zM542.7 399.33l2.25 2.25 -2.25 2.25 -2.25 -2.25zM543.13 401.37l2.25 2.25 -2.25 2.25 -2.25 -2.25zM543.56 403.68l2.25 2.25 -2.25 2.25 -2.25 -2.25zM543.98 406.8l2.25 2.25 -2.25 2.25 -2.25 -2.25zM544.4 410.46l2.25 2.25 -2.25 2.25 -2.25 -2.25zM544.82 414.25l2.25 2.25 -2.25 2.25 -2.25 -2.25zM545.23 417.76l2.25 2.25 -2.25 2.25 -2.25 -2.25zM545.64 420.64l2.25 2.25 -2.25 2.25 -2.25 -2.25zM546.04 423.15l2.25 2.25 -2.25 2.25 -2.25 -2.25zM546.44 425.48l2.25 2.25 -2.25 2.25 -2.25 -2.25zM546.84 427.67l2.25 2.25 -2.25 2.25 -2.25 -2.25zM547.24 429.75l2.25 2.25 -2.25 2.25 -2.25 -2.25zM547.63 431.77l2.25 2.25 -2.25 2.25 -2.25 -2.25zM548.02 433.76l2.25 2.25 -2.25 2.25 -2.25 -2.25zM548.4 435.76l2.25 2.25 -2.25 2.25 -2.25 -2.25zM548.78 437.68l2.25 2.25 -2.25 2.25 -2.25 -2.25zM549.16 439.48l2.25 2.25 -2.25 2.25 -2.25 -2.25zM549.54 441.22l2.25 2.25 -2.25 2.25 -2.25 -2.25zM549.91 442.99l2.25 2.25 -2.25 2.25 -2.25 -2.25zM550.29 444.86l2.25 2.25 -2.25 2.25 -2.25 -2.25zM550.65 446.88l2.25 2.25 -2.25 2.25 -2.25 -2.25zM551.02 449.13l2.25 2.25 -2.25 2.25 -2.25 -2.25zM551.38 451.62l2.25 2.25 -2.25 2.25 -2.25 -2.25zM551.74 454.32l2.25 2.25 -2.25 2.25 -2.25 -2.25zM552.1 457.2l2.25 2.25 -2.25 2.25 -2.25 -2.25zM552.46 460.25l2.25 2.25 -2.25 2.25 -2.25 -2.25zM552.81 463.84l2.25 2.25 -2.25 2.25 -2.25 -2.25zM553.16 467.87l2.25 2.25 -2.25 2.25 -2.25 -2.25zM553.51 471.87l2.25 2.25 -2.25 2.25 -2.25 -2.25zM553.85 475.45l2.25 2.25 -2.25 2.25 -2.25 -2.25zM554.19 478.22l2.25 2.25 -2.25 2.25 -2.25 -2.25zM554.53 480.53l2.25 2.25 -2.25 2.25 -2.25 -2.25zM554.87 482.6l2.25 2.25 -2.25 2.25 -2.25 -2.25zM555.21 484.49l2.25 2.25 -2.25 2.25 -2.25 -2.25zM555.54 486.23l2.25 2.25 -2.25 2.25 -2.25 -2.25zM555.87 487.86l2.25 2.25 -2.25 2.25 -2.25 -2.25zM556.2 489.43l2.25 2.25 -2.25 2.25 -2.25 -2.25zM556.53 490.97l2.25 2.25 -2.25 2.25 -2.25 -2.25zM556.85 492.52l2.25 2.25 -2.25 2.25 -2.25 -2.25zM557.17 494.1l2.25 2.25 -2.25 2.25 -2.25 -2.25zM557.49 495.68l2.25 2.25 -2.25 2.25 -2.25 -2.25zM557.81 497.24l2.25 2.25 -2.25 2.25 -2.25 -2.25zM558.13 498.77l2.25 2.25 -2.25 2.25 -2.25 -2.25zM558.44 500.26l2.25 2.25 -2.25 2.25 -2.25 -2.25zM558.75 501.7l2.25 2.25 -2.25 2.25 -2.25 -2.25zM559.06 503.07l2.25 2.25 -2.25 2.25 -2.25 -2.25zM559.37 504.36l2.25 2.25 -2.25 2.25 -2.25 -2.25zM559.68 505.57l2.25 2.25 -2.25 2.25 -2.25 -2.25zM559.98 506.69l2.25 2.25 -2.25 2.25 -2.25 -2.25zM560.28 507.71l2.25 2.25 -2.25 2.25 -2.25 -2.25zM560.58 508.68l2.25 2.25 -2.25 2.25 -2.25 -2.25zM560.88 509.59l2.25 2.25 -2.25 2.25 -2.25 -2.25zM561.18 510.45l2.25 2.25 -2.25 2.25 -2.25 -2.25zM561.48 511.28l2.25 2.25 -2.25 2.25 -2.25 -2.25zM561.77 512.07l2.25 2.25 -2.25 2.25 -2.25 -2.25zM562.06 512.83l2.25 2.25 -2.25 2.25 -2.25 -2.25zM562.35 513.57l2.25 2.25 -2.25 2.25 -2.25 -2.25zM562.64 514.3l2.25 2.25 -2.25 2.25 -2.25 -2.25zM562.92 515.01l2.25 2.25 -2.25 2.25 -2.25 -2.25zM563.21 515.72l2.25 2.25 -2.25 2.25 -2.25 -2.25zM563.49 516.4l2.25 2.25 -2.25 2.25 -2.25 -2.25zM563.77 517.07l2.25 2.25 -2.25 2.25 -2.25 -2.25zM564.05 517.73l2.25 2.25 -2.25 2.25 -2.25 -2.25zM564.33 518.36l2.25 2.25 -2.25 2.25 -2.25 -2.25zM564.61 518.98l2.25 2.25 -2.25 2.25 -2.25 -2.25zM564.88 519.57l2.25 2.25 -2.25 2.25 -2.25 -2.25zM565.16 520.15l2.25 2.25 -2.25 2.25 -2.25 -2.25zM565.43 520.7l2.25 2.25 -2.25 2.25 -2.25 -2.25zM565.7 521.23l2.25 2.25 -2.25 2.25 -2.25 -2.25zM565.97 521.74l2.25 2.25 -2.25 2.25 -2.25 -2.25zM566.24 522.22l2.25 2.25 -2.25 2.25 -2.25 -2.25zM566.5 522.68l2.25 2.25 -2.25 2.25 -2.25 -2.25zM566.77 523.14l2.25 2.25 -2.25 2.25 -2.25 -2.25zM567.03 523.59l2.25 2.25 -2.25 2.25 -2.25 -2.25zM567.29 524.04l2.25 2.25 -2.25 2.25 -2.25 -2.25zM567.56 524.47l2.25 2.25 -2.25 2.25 -2.25 -2.25zM567.81 524.89l2.25 2.25 -2.25 2.25 -2.25 -2.25zM568.07 525.3l2.25 2.25 -2.25 2.25 -2.25 -2.25zM568.33 525.7l2.25 2.25 -2.25 2.25 -2.25 -2.25zM568.58 526.09l2.25 2.25 -2.25 2.25 -2.25 -2.25zM568.84 526.47l2.25 2.25 -2.25 2.25 -2.25 -2.25zM569.09 526.83l2.25 2.25 -2.25 2.25 -2.25 -2.25zM569.34 527.19l2.25 2.25 -2.25 2.25 -2.25 -2.25zM569.59 527.53l2.25 2.25 -2.25 2.25 -2.25 -2.25zM569.84 527.86l2.25 2.25 -2.25 2.25 -2.25 -2.25zM570.09 528.18l2.25 2.25 -2.25 2.25 -2.25 -2.25zM570.33 528.48l2.25 2.25 -2.25 2.25 -2.25 -2.25zM570.58 528.77l2.25 2.25 -2.25 2.25 -2.25 -2.25zM570.82 529.05l2.25 2.25 -2.25 2.25 -2.25 -2.25zM571.06 529.31l2.25 2.25 -2.25 2.25 -2.25 -2.25zM571.31 529.56l2.25 2.25 -2.25 2.25 -2.25 -2.25zM571.55 529.79l2.25 2.25 -2.25 2.25 -2.25 -2.25zM571.79 530.01l2.25 2.25 -2.25 2.25 -2.25 -2.25zM572.02 530.23l2.25 2.25 -2.25 2.25 -2.25 -2.25zM572.26 530.43l2.25 2.25 -2.25 2.25 -2.25 -2.25zM572.5 530.62l2.25 2.25 -2.25 2.25 -2.25 -2.25zM572.73 530.81l2.25 2.25 -2.25 2.25 -2.25 -2.25zM572.96 530.99l2.25 2.25 -2.25 2.25 -2.25 -2.25zM573.2 531.16l2.25 2.25 -2.25 2.25 -2.25 -2.25zM573.43 531.32l2.25 2.25 -2.25 2.25 -2.25 -2.25zM573.66 531.49l2.25 2.25 -2.25 2.25 -2.25 -2.25zM573.88 531.64l2.25 2.25 -2.25 2.25 -2.25 -2.25zM574.11 531.79l2.25 2.25 -2.25 2.25 -2.25 -2.25zM574.34 531.94l2.25 2.25 -2.25 2.25 -2.25 -2.25zM574.57 532.09l2.25 2.25 -2.25 2.25 -2.25 -2.25zM574.79 532.24l2.25 2.25 -2.25 2.25 -2.25 -2.25zM575.01 532.38l2.25 2.25 -2.25 2.25 -2.25 -2.25zM575.24 532.53l2.25 2.25 -2.25 2.25 -2.25 -2.25zM575.46 532.67l2.25 2.25 -2.25 2.25 -2.25 -2.25zM575.68 532.82l2.25 2.25 -2.25 2.25 -2.25 -2.25zM575.9 532.96l2.25 2.25 -2.25 2.25 -2.25 -2.25zM576.12 533.11l2.25 2.25 -2.25 2.25 -2.25 -2.25zM576.33 533.26l2.25 2.25 -2.25 2.25 -2.25 -2.25zM576.55 533.41l2.25 2.25 -2.25 2.25 -2.25 -2.25zM576.77 533.57l2.25 2.25 -2.25 2.25 -2.25 -2.25zM576.98 533.73l2.25 2.25 -2.25 2.25 -2.25 -2.25zM577.2 533.89l2.25 2.25 -2.25 2.25 -2.25 -2.25zM577.41 534.06l2.25 2.25 -2.25 2.25 -2.25 -2.25zM577.62 534.23l2.25 2.25 -2.25 2.25 -2.25 -2.25zM577.83 534.41l2.25 2.25 -2.25 2.25 -2.25 -2.25zM578.04 534.59l2.25 2.25 -2.25 2.25 -2.25 -2.25zM578.25 534.78l2.25 2.25 -2.25 2.25 -2.25 -2.25zM578.46 534.97l2.25 2.25 -2.25 2.25 -2.25 -2.25zM578.67 535.16l2.25 2.25 -2.25 2.25 -2.25 -2.25zM578.87 535.35l2.25 2.25 -2.25 2.25 -2.25 -2.25zM579.08 535.55l2.25 2.25 -2.25 2.25 -2.25 -2.25zM579.29 535.74l2.25 2.25 -2.25 2.25 -2.25 -2.25zM579.49 535.94l2.25 2.25 -2.25 2.25 -2.25 -2.25zM579.69 536.14l2.25 2.25 -2.25 2.25 -2.25 -2.25zM579.9 536.34l2.25 2.25 -2.25 2.25 -2.25 -2.25zM580.1 536.53l2.25 2.25 -2.25 2.25 -2.25 -2.25zM580.3 536.73l2.25 2.25 -2.25 2.25 -2.25 -2.25zM580.5 536.92l2.25 2.25 -2.25 2.25 -2.25 -2.25zM580.7 537.11l2.25 2.25 -2.25 2.25 -2.25 -2.25zM580.9 537.3l2.25 2.25 -2.25 2.25 -2.25 -2.25zM581.09 537.48l2.25 2.25 -2.25 2.25 -2.25 -2.25zM581.29 537.67l2.25 2.25 -2.25 2.25 -2.25 -2.25zM581.49 537.85l2.25 2.25 -2.25 2.25 -2.25 -2.25zM581.68 538.02l2.25 2.25 -2.25 2.25 -2.25 -2.25zM581.88 538.19l2.25 2.25 -2.25 2.25 -2.25 -2.25zM582.07 538.36l2.25 2.25 -2.25 2.25 -2.25 -2.25zM582.26 538.52l2.25 2.25 -2.25 2.25 -2.25 -2.25zM582.45 538.67l2.25 2.25 -2.25 2.25 -2.25 -2.25zM582.65 538.82l2.25 2.25 -2.25 2.25 -2.25 -2.25zM582.84 538.96l2.25 2.25 -2.25 2.25 -2.25 -2.25zM583.03 539.1l2.25 2.25 -2.25 2.25 -2.25 -2.25zM583.21 539.23l2.25 2.25 -2.25 2.25 -2.25 -2.25zM583.4 539.35l2.25 2.25 -2.25 2.25 -2.25 -2.25zM583.59 539.47l2.25 2.25 -2.25 2.25 -2.25 -2.25zM583.78 539.59l2.25 2.25 -2.25 2.25 -2.25 -2.25zM583.96 539.7l2.25 2.25 -2.25 2.25 -2.25 -2.25zM584.15 539.82l2.25 2.25 -2.25 2.25 -2.25 -2.25zM584.33 539.93l2.25 2.25 -2.25 2.25 -2.25 -2.25zM584.52 540.04l2.25 2.25 -2.25 2.25 -2.25 -2.25zM584.7 540.15l2.25 2.25 -2.25 2.25 -2.25 -2.25zM584.88 540.26l2.25 2.25 -2.25 2.25 -2.25 -2.25zM585.07 540.37l2.25 2.25 -2.25 2.25 -2.25 -2.25zM585.25 540.47l2.25 2.25 -2.25 2.25 -2.25 -2.25zM585.43 540.57l2.25 2.25 -2.25 2.25 -2.25 -2.25zM585.61 540.67l2.25 2.25 -2.25 2.25 -2.25 -2.25zM585.79 540.77l2.25 2.25 -2.25 2.25 -2.25 -2.25zM585.97 540.86l2.25 2.25 -2.25 2.25 -2.25 -2.25zM586.15 540.95l2.25 2.25 -2.25 2.25 -2.25 -2.25zM586.32 541.04l2.25 2.25 -2.25 2.25 -2.25 -2.25zM586.5 541.13l2.25 2.25 -2.25 2.25 -2.25 -2.25zM586.68 541.21l2.25 2.25 -2.25 2.25 -2.25 -2.25zM586.85 541.3l2.25 2.25 -2.25 2.25 -2.25 -2.25zM587.03 541.37l2.25 2.25 -2.25 2.25 -2.25 -2.25zM587.2 541.45l2.25 2.25 -2.25 2.25 -2.25 -2.25zM587.37 541.52l2.25 2.25 -2.25 2.25 -2.25 -2.25zM587.55 541.59l2.25 2.25 -2.25 2.25 -2.25 -2.25zM587.72 541.66l2.25 2.25 -2.25 2.25 -2.25 -2.25zM587.89 541.72l2.25 2.25 -2.25 2.25 -2.25 -2.25zM588.06 541.78l2.25 2.25 -2.25 2.25 -2.25 -2.25zM588.23 541.84l2.25 2.25 -2.25 2.25 -2.25 -2.25zM588.4 541.89l2.25 2.25 -2.25 2.25 -2.25 -2.25zM588.57 541.94l2.25 2.25 -2.25 2.25 -2.25 -2.25zM588.74 541.99l2.25 2.25 -2.25 2.25 -2.25 -2.25zM588.91 542.04l2.25 2.25 -2.25 2.25 -2.25 -2.25zM589.08 542.08l2.25 2.25 -2.25 2.25 -2.25 -2.25zM589.25 542.13l2.25 2.25 -2.25 2.25 -2.25 -2.25zM589.41 542.18l2.25 2.25 -2.25 2.25 -2.25 -2.25zM589.58 542.22l2.25 2.25 -2.25 2.25 -2.25 -2.25zM589.74 542.27l2.25 2.25 -2.25 2.25 -2.25 -2.25zM589.91 542.32l2.25 2.25 -2.25 2.25 -2.25 -2.25zM590.07 542.36l2.25 2.25 -2.25 2.25 -2.25 -2.25zM590.24 542.41l2.25 2.25 -2.25 2.25 -2.25 -2.25zM590.4 542.45l2.25 2.25 -2.25 2.25 -2.25 -2.25zM590.56 542.49l2.25 2.25 -2.25 2.25 -2.25 -2.25zM590.73 542.53l2.25 2.25 -2.25 2.25 -2.25 -2.25zM590.89 542.58l2.25 2.25 -2.25 2.25 -2.25 -2.25zM591.05 542.62l2.25 2.25 -2.25 2.25 -2.25 -2.25z" fill="#0070c0"/>
<path d="M426.09 545.4h0M430.55 545.4h0M434.63 545.4h0M438.4 545.4h0M441.9 545.4h0M445.17 545.4h0M448.23 545.4h0M451.11 545.4h0M453.84 545.4h0M456.42 545.4h0M458.87 545.4h0M461.2 545.4h0M463.43 545.4h0M465.56 545.4h0M467.6 545.4h0M469.56 545.4h0M471.44 545.4h0M473.26 545.4h0M475.01 545.4h0M476.7 545.4h0M478.33 545.4h0M479.91 545.4h0M481.44 545.4h0M482.93 545.4h0M484.37 545.4h0M485.77 545.4h0M487.13 545.4h0M488.45 545.4h0M489.74 545.4h0M491 545.4h0M492.22 545.4h0M493.42 545.4h0M494.58 545.4h0M495.72 545.4h0M496.84 545.4h0M497.92 545.4h0M498.99 545.4h0M500.03 545.4h0M501.05 545.4h0M502.05 545.4h0M503.03 545.4h0M503.99 545.4h0M504.93 545.4h0M505.86 545.4h0M506.77 545.4h0M507.66 545.4h0M508.53 545.39h0M509.39 545.37h0M510.24 545.35h0M511.07 545.33h0M511.88 545.3h0M512.69 545.26h0M513.48 545.2h0M514.25 545.1h0M515.02 544.99h0M515.77 544.85h0M516.51 544.66h0M517.25 544.33h0M517.97 543.9h0M518.68 543.34h0M519.38 542.43h0M520.07 541.21h0M520.75 539.91h0M521.42 538.56h0M522.08 537.1h0M522.73 535.5h0M523.38 533.77h0M524.01 531.89h0M524.64 529.75h0M525.26 527.19h0M525.87 524.44h0M526.48 521.69h0M527.08 518.84h0M527.67 515.93h0M528.25 513.09h0M528.83 510.56h0M529.4 507.91h0M529.96 504.6h0M530.52 499.63h0M531.07 494.06h0M531.61 488.73h0M532.15 483.32h0M532.68 477.73h0M533.21 471.82h0M533.73 465.53h0M534.24 458.97h0M534.75 452.26h0M535.26 445.4h0M535.76 437.65h0M536.25 428.49h0M536.74 419.26h0M537.23 409.6h0M537.71 402.93h0M538.19 399.53h0M538.66 394.38h0M539.12 386.69h0M539.59 380.67h0M540.04 375.86h0M540.5 373.12h0M540.95 371.5h0M541.39 370.13h0M541.83 369.06h0M542.27 368.32h0M542.7 367.94h0M543.13 367.96h0M543.56 368.34h0M543.98 368.98h0M544.4 369.79h0M544.82 370.68h0M545.23 371.56h0M545.64 372.52h0M546.04 373.68h0M546.44 375.06h0M546.84 376.8h0M547.24 378.9h0M547.63 381.22h0M548.02 383.64h0M548.4 386.09h0M548.78 388.68h0M549.16 391.43h0M549.54 394.33h0M549.91 397.52h0M550.29 400.97h0M550.65 404.14h0M551.02 406.99h0M551.38 409.69h0M551.74 412.26h0M552.1 414.69h0M552.46 417.01h0M552.81 419.26h0M553.16 421.45h0M553.51 423.55h0M553.85 425.55h0M554.19 427.43h0M554.53 429.19h0M554.87 430.8h0M555.21 432.28h0M555.54 433.65h0M555.87 434.96h0M556.2 436.23h0M556.53 437.49h0M556.85 438.73h0M557.17 439.94h0M557.49 441.1h0M557.81 442.2h0M558.13 443.24h0M558.44 444.25h0M558.75 445.22h0M559.06 446.15h0M559.37 447.06h0M559.68 447.93h0M559.98 448.78h0M560.28 449.59h0M560.58 450.38h0M560.88 451.13h0M561.18 451.84h0M561.48 452.53h0M561.77 453.21h0M562.06 453.86h0M562.35 454.51h0M562.64 455.16h0M562.92 455.81h0M563.21 456.47h0M563.49 457.14h0M563.77 457.82h0M564.05 458.5h0M564.33 459.18h0M564.61 459.85h0M564.88 460.52h0M565.16 461.2h0M565.43 461.88h0M565.7 462.57h0M565.97 463.28h0M566.24 464h0M566.5 464.73h0M566.77 465.49h0M567.03 466.29h0M567.29 467.11h0M567.56 467.95h0M567.81 468.81h0M568.07 469.66h0M568.33 470.5h0M568.58 471.32h0M568.84 472.11h0M569.09 472.85h0M569.34 473.53h0M569.59 474.16h0M569.84 474.76h0M570.09 475.36h0M570.33 475.98h0M570.58 476.63h0M570.82 477.34h0M571.06 478.13h0M571.31 479.01h0M571.55 480.01h0M571.79 481.48h0M572.02 483.23h0M572.26 484.78h0M572.5 485.96h0M572.73 487.04h0M572.96 488.04h0M573.2 488.98h0M573.43 489.86h0M573.66 490.7h0M573.88 491.52h0M574.11 492.32h0M574.34 493.11h0M574.57 493.91h0M574.79 494.73h0M575.01 495.54h0M575.24 496.34h0M575.46 497.14h0M575.68 497.93h0M575.9 498.71h0M576.12 499.48h0M576.33 500.24h0M576.55 500.99h0M576.77 501.74h0M576.98 502.47h0M577.2 503.2h0M577.41 503.92h0M577.62 504.63h0M577.83 505.33h0M578.04 506.03h0M578.25 506.71h0M578.46 507.39h0M578.67 508.06h0M578.87 508.72h0M579.08 509.37h0M579.29 510.01h0M579.49 510.64h0M579.69 511.27h0M579.9 511.88h0M580.1 512.49h0M580.3 513.09h0M580.5 513.69h0M580.7 514.29h0M580.9 514.88h0M581.09 515.46h0M581.29 516.04h0M581.49 516.62h0M581.68 517.19h0M581.88 517.76h0M582.07 518.32h0M582.26 518.88h0M582.45 519.43h0M582.65 519.98h0M582.84 520.52h0M583.03 521.06h0M583.21 521.59h0M583.4 522.11h0M583.59 522.62h0M583.78 523.13h0M583.96 523.64h0M584.15 524.13h0M584.33 524.62h0M584.52 525.11h0M584.7 525.58h0M584.88 526.05h0M585.07 526.51h0M585.25 526.97h0M585.43 527.41h0M585.61 527.85h0M585.79 528.28h0M585.97 528.7h0M586.15 529.12h0M586.32 529.53h0M586.5 529.92h0M586.68 530.31h0M586.85 530.7h0M587.03 531.07h0M587.2 531.44h0M587.37 531.82h0M587.55 532.18h0M587.72 532.55h0M587.89 532.91h0M588.06 533.26h0M588.23 533.61h0M588.4 533.95h0M588.57 534.29h0M588.74 534.62h0M588.91 534.95h0M589.08 535.27h0M589.25 535.58h0M589.41 535.88h0M589.58 536.17h0M589.74 536.46h0M589.91 536.73h0M590.07 536.99h0M590.24 537.25h0M590.4 537.49h0M590.56 537.73h0M590.73 537.95h0M590.89 538.16h0M591.05 538.36h0M591.21 538.55h0M591.37 538.74h0M591.53 538.93h0M591.69 539.11h0M591.85 539.29h0M592 539.47h0M592.16 539.64h0M592.32 539.81h0M592.48 539.97h0M592.63 540.13h0M592.79 540.29h0M592.94 540.44h0M593.1 540.59h0M593.25 540.74h0M593.4 540.88h0M593.56 541.02h0M593.71 541.16h0M593.86 541.29h0M594.01 541.42h0M594.17 541.55h0M594.32 541.67h0M594.47 541.79h0M594.62 541.9h0M594.77 542.01h0M594.91 542.12h0M595.06 542.22h0M595.21 542.32h0M595.36 542.42h0M595.51 542.51h0M595.65 542.6h0M595.8 542.69h0M595.94 542.77h0M596.09 542.85h0M596.23 542.93h0M596.38 543.01h0M596.52 543.08h0M596.67 543.16h0M596.81 543.24h0M596.95 543.31h0M597.09 543.39h0M597.24 543.47h0M597.38 543.54h0M597.52 543.61h0M597.66 543.68h0M597.8 543.75h0M597.94 543.82h0M598.08 543.89h0M598.22 543.96h0M598.36 544.03h0M598.5 544.09h0M598.63 544.15h0M598.77 544.21h0M598.91 544.27h0M599.05 544.33h0M599.18 544.39h0M599.32 544.44h0M599.45 544.5h0M599.59 544.55h0M599.72 544.6h0M599.86 544.64h0M599.99 544.69h0M600.13 544.73h0M600.26 544.77h0M600.39 544.81h0M600.53 544.85h0M600.66 544.88h0M600.79 544.92h0M600.92 544.95h0M601.05 544.97h0M601.19 545h0M601.32 545.02h0M601.45 545.04h0M601.58 545.06h0M601.71 545.08h0M601.84 545.09h0M601.96 545.1h0M602.09 545.11h0M602.22 545.11h0M602.35 545.12h0M602.48 545.13h0M602.6 545.14h0M602.73 545.14h0M602.86 545.15h0M602.98 545.16h0M603.11 545.16h0M603.23 545.17h0M603.36 545.18h0M603.49 545.18h0M603.61 545.19h0M603.73 545.19h0M603.86 545.2h0M603.98 545.21h0M604.11 545.21h0M604.23 545.22h0M604.35 545.22h0M604.47 545.23h0M604.6 545.24h0M604.72 545.24h0M604.84 545.25h0M604.96 545.25h0M605.08 545.26h0M605.2 545.26h0M605.32 545.27h0M605.44 545.27h0M605.56 545.28h0M605.68 545.28h0M605.8 545.28h0M605.92 545.29h0M606.04 545.29h0M606.16 545.3h0M606.27 545.3h0M606.39 545.31h0M606.51 545.31h0M606.63 545.31h0M606.74 545.32h0M606.86 545.32h0M606.98 545.32h0M607.09 545.33h0M607.21 545.33h0M607.32 545.33h0M607.44 545.34h0M607.55 545.34h0M607.67 545.34h0M607.78 545.35h0M607.9 545.35h0M608.01 545.35h0M608.13 545.35h0M608.24 545.36h0M608.35 545.36h0M608.47 545.36h0M608.58 545.36h0M608.69 545.37h0M608.8 545.37h0M608.91 545.37h0M609.03 545.37h0M609.14 545.38h0M609.25 545.38h0M609.36 545.38h0M609.47 545.38h0M609.58 545.38h0M609.69 545.38h0M609.8 545.39h0M609.91 545.39h0M610.02 545.39h0M610.13 545.39h0" stroke="#00b050" stroke-width="4.3" stroke-linecap="round" fill="none"/>
<path d="M610.18 545.4H683.26" stroke="#00b050" stroke-width="4.3" stroke-linecap="round"/>
<defs><radialGradient id="gcg"><stop offset="0" stop-color="#8c8c8c"/><stop offset="0.75" stop-color="#9e9e9e"/><stop offset="1" stop-color="#c4c4c4"/></radialGradient></defs>
<path d="M148 35.7C152 37.6 158 37.4 168 36.6C180 35.8 192 36.2 199 37.9C205 39 209 40 213 42M134.3 50.1C139 47.5 143 45.8 148 44C152 42.7 155 41.9 160 41.2M111.5 41C115 43 117 46 120 50C122.5 53.5 125 55.6 128.1 55.8C131 56 134 55.4 138 54C146 51 152 49.5 157.5 48.8M121.1 43.1C125 44.4 128 46 129.6 49.5C131 53 132 55.5 136.9 57.2C141 58.5 146 59 151 58.7C155 58.3 157 55 157.5 52.5M133.4 63.3C136 62 139 60.8 143 59.8C147 59 151 59.4 154 61C156 62 157.5 63 159 64M143.9 64.6C147 66 149 67.2 152 68.5C156 70.5 159 72 163 73C170 74.2 180 73.6 186 71.8C191 70.3 195 68.5 199 66.5" fill="none" stroke="#c9975f" stroke-width="1.3" stroke-linecap="round"/>
<g transform="translate(0 0)"><path d="M170 42.6L208 40.5C216 40.1 220 43.2 220 50C220 57 216 62 208 63.6L172 67.8C163 68.6 157.6 62.5 157.6 55.5C157.6 48 162 43 170 42.6Z" fill="#fde1c4" stroke="#c9975f" stroke-width="1.4"/><path d="M170.5 45.2L208 43.1C214.3 42.9 217.4 45.6 217.4 50.2C217.4 55.6 214.3 59.4 208 60.8L172 65C165.2 65.7 160.3 61.3 160.3 55.5C160.3 49.8 164.2 45.6 170.5 45.2Z" fill="none" stroke="#bdbab6" stroke-width="1.1"/></g>
<path d="M174.1 46.9L175.6 45L178.6 44.8L180.7 46.4L180.8 49.2L178.5 50.7L175.1 50.5L174 48.7Z" fill="#a9a9a9" stroke="#262626" stroke-width="0.9" stroke-linejoin="round"/><path d="M175.5 46.9h4.2M175.3 49.1h4" stroke="#fff" stroke-width="1" fill="none"/>
<path d="M186.7 47.8L188.2 45.9L191.2 45.7L193.3 47.3L193.4 50.1L191.1 51.6L187.7 51.4L186.6 49.6Z" fill="#a9a9a9" stroke="#262626" stroke-width="0.9" stroke-linejoin="round"/><path d="M188.1 47.8h4.2M187.9 50h4" stroke="#fff" stroke-width="1" fill="none"/>
<path d="M201.1 48.2L202.6 46.3L205.6 46.1L207.7 47.7L207.8 50.5L205.5 52L202.1 51.8L201 50Z" fill="#a9a9a9" stroke="#262626" stroke-width="0.9" stroke-linejoin="round"/><path d="M202.5 48.2h4.2M202.3 50.4h4" stroke="#fff" stroke-width="1" fill="none"/>
<path d="M168.9 52.7L170.4 50.8L173.4 50.6L175.5 52.2L175.6 55L173.3 56.5L169.9 56.3L168.8 54.5Z" fill="#a9a9a9" stroke="#262626" stroke-width="0.9" stroke-linejoin="round"/><path d="M170.3 52.7h4.2M170.1 54.9h4" stroke="#fff" stroke-width="1" fill="none"/>
<path d="M179.6 58.3L181.1 56.4L184.1 56.2L186.2 57.8L186.3 60.6L184 62.1L180.6 61.9L179.5 60.1Z" fill="#a9a9a9" stroke="#262626" stroke-width="0.9" stroke-linejoin="round"/><path d="M181 58.3h4.2M180.8 60.5h4" stroke="#fff" stroke-width="1" fill="none"/>
<path d="M191.9 55.8L193.4 53.9L196.4 53.7L198.5 55.3L198.6 58.1L196.3 59.6L192.9 59.4L191.8 57.6Z" fill="#a9a9a9" stroke="#262626" stroke-width="0.9" stroke-linejoin="round"/><path d="M193.3 55.8h4.2M193.1 58h4" stroke="#fff" stroke-width="1" fill="none"/>
<path d="M148 35.7C152 37.6 158 37.4 168 36.6C180 35.8 192 36.2 199 37.9C205 39 209 40 213 42M134.3 50.1C139 47.5 143 45.8 148 44C152 42.7 155 41.9 160 41.2M111.5 41C115 43 117 46 120 50C122.5 53.5 125 55.6 128.1 55.8C131 56 134 55.4 138 54C146 51 152 49.5 157.5 48.8M121.1 43.1C125 44.4 128 46 129.6 49.5C131 53 132 55.5 136.9 57.2C141 58.5 146 59 151 58.7C155 58.3 157 55 157.5 52.5M133.4 63.3C136 62 139 60.8 143 59.8C147 59 151 59.4 154 61C156 62 157.5 63 159 64M143.9 64.6C147 66 149 67.2 152 68.5C156 70.5 159 72 163 72.8C168 73.4 172 73.3 176 72.8C184 71.8 191 70 196.5 68.2" fill="none" stroke="#c9975f" stroke-width="1.3" stroke-linecap="round" transform="translate(-57 94.5)"/>
<g transform="translate(0 0)">
<path d="M113 136.6L161 137.6L157.4 140L157 151.5C154 155 146 156.3 139.6 157.6L139.8 162.4L113 163C106 163 100.8 157 100.8 149.8C100.8 142.6 106 136.6 113 136.6Z" fill="#fde1c4"/>
<path d="M157 139.8L113.4 139.3C107.8 139.3 103.5 144 103.5 149.8C103.5 155.6 107.8 160.3 113.4 160.3L137.4 159.7" fill="none" stroke="#bdbab6" stroke-width="1.1"/>
<path d="M161.4 137.9L113 136.6C106 136.6 100.8 142.6 100.8 149.8C100.8 157 106 163 113 163L139.6 162.4C142.2 162.6 143.6 165.5 143.3 169.8M161.7 139.2C162.5 145 165 150 170.2 150.5C172.5 150.6 174 149.8 174.6 149.3" fill="none" stroke="#c9975f" stroke-width="1.4" stroke-linecap="round"/>
</g>
<path d="M148 35.7C152 37.6 158 37.4 168 36.6C180 35.8 192 36.2 199 37.9C205 39 209 40 213 42M134.3 50.1C139 47.5 143 45.8 148 44C152 42.7 155 41.9 160 41.2M111.5 41C115 43 117 46 120 50C122.5 53.5 125 55.6 128.1 55.8C131 56 134 55.4 138 54C146 51 152 49.5 157.5 48.8M121.1 43.1C125 44.4 128 46 129.6 49.5C131 53 132 55.5 136.9 57.2C141 58.5 146 59 151 58.7C155 58.3 157 55 157.5 52.5M133.4 63.3C136 62 139 60.8 143 59.8C147 59 151 59.4 154 61C156 62 157.5 63 159 64M143.9 64.6C147 66 149 67.2 152 68.5C156 70.5 159 72 163 72.8C168 73.4 172 73.3 176 72.8C184 71.8 191 70 196.5 68.2" fill="none" stroke="#c9975f" stroke-width="1.3" stroke-linecap="round" transform="translate(69.2 94.7)"/>
<g transform="translate(126.2 0.2)">
<path d="M113 136.6L161 137.6L157.4 140L157 151.5C154 155 146 156.3 139.6 157.6L139.8 162.4L113 163C106 163 100.8 157 100.8 149.8C100.8 142.6 106 136.6 113 136.6Z" fill="#fde1c4"/>
<path d="M157 139.8L113.4 139.3C107.8 139.3 103.5 144 103.5 149.8C103.5 155.6 107.8 160.3 113.4 160.3L137.4 159.7" fill="none" stroke="#bdbab6" stroke-width="1.1"/>
<path d="M161.4 137.9L113 136.6C106 136.6 100.8 142.6 100.8 149.8C100.8 157 106 163 113 163L139.6 162.4C142.2 162.6 143.6 165.5 143.3 169.8M161.7 139.2C162.5 145 165 150 170.2 150.5C172.5 150.6 174 149.8 174.6 149.3" fill="none" stroke="#c9975f" stroke-width="1.4" stroke-linecap="round"/>
</g>
<path d="M114.43 141.16L116 139.16L119.16 138.95L121.36 140.63L121.47 143.57L119.05 145.14L115.48 144.94L114.33 143.04Z" fill="#d2d2d2" stroke="#262626" stroke-width="0.9" stroke-linejoin="round"/><path d="M115.9 141.16h4.41M115.69 143.47h4.2" stroke="#fff" stroke-width="1" fill="none"/>
<path d="M128.83 142.16L130.41 140.16L133.56 139.95L135.76 141.63L135.87 144.57L133.45 146.14L129.88 145.94L128.72 144.04Z" fill="#d2d2d2" stroke="#262626" stroke-width="0.9" stroke-linejoin="round"/><path d="M130.3 142.16h4.41M130.09 144.47h4.2" stroke="#fff" stroke-width="1" fill="none"/>
<path d="M145.33 143.16L146.91 141.16L150.06 140.95L152.26 142.63L152.37 145.57L149.95 147.14L146.38 146.94L145.22 145.04Z" fill="#d2d2d2" stroke="#262626" stroke-width="0.9" stroke-linejoin="round"/><path d="M146.8 143.16h4.41M146.59 145.47h4.2" stroke="#fff" stroke-width="1" fill="none"/>
<path d="M108.23 148.36L109.8 146.36L112.95 146.15L115.16 147.83L115.27 150.77L112.85 152.34L109.28 152.14L108.12 150.25Z" fill="#d2d2d2" stroke="#262626" stroke-width="0.9" stroke-linejoin="round"/><path d="M109.7 148.36h4.41M109.49 150.67h4.2" stroke="#fff" stroke-width="1" fill="none"/>
<path d="M120.63 154.56L122.2 152.56L125.36 152.35L127.56 154.03L127.67 156.97L125.25 158.54L121.68 158.34L120.53 156.44Z" fill="#d2d2d2" stroke="#262626" stroke-width="0.9" stroke-linejoin="round"/><path d="M122.1 154.56h4.41M121.89 156.87h4.2" stroke="#fff" stroke-width="1" fill="none"/>
<path d="M134.83 151.36L136.41 149.36L139.56 149.15L141.76 150.83L141.87 153.77L139.45 155.34L135.88 155.14L134.72 153.25Z" fill="#d2d2d2" stroke="#262626" stroke-width="0.9" stroke-linejoin="round"/><path d="M136.3 151.36h4.41M136.09 153.67h4.2" stroke="#fff" stroke-width="1" fill="none"/>
<path d="M240.53 141.56L242.1 139.56L245.25 139.35L247.46 141.03L247.56 143.97L245.15 145.54L241.58 145.34L240.42 143.44Z" fill="#d2d2d2" stroke="#262626" stroke-width="0.9" stroke-linejoin="round"/><path d="M242 141.56h4.41M241.79 143.87h4.2" stroke="#fff" stroke-width="1" fill="none"/>
<path d="M255.23 142.46L256.81 140.46L259.95 140.25L262.16 141.93L262.26 144.87L259.85 146.44L256.28 146.24L255.12 144.34Z" fill="#d2d2d2" stroke="#262626" stroke-width="0.9" stroke-linejoin="round"/><path d="M256.7 142.46h4.41M256.49 144.77h4.2" stroke="#fff" stroke-width="1" fill="none"/>
<path d="M271.33 143.06L272.9 141.06L276.05 140.85L278.26 142.53L278.36 145.47L275.95 147.04L272.38 146.84L271.22 144.94Z" fill="#d2d2d2" stroke="#262626" stroke-width="0.9" stroke-linejoin="round"/><path d="M272.8 143.06h4.41M272.59 145.37h4.2" stroke="#fff" stroke-width="1" fill="none"/>
<path d="M234.93 148.75L236.5 146.76L239.66 146.55L241.86 148.23L241.97 151.17L239.55 152.74L235.98 152.53L234.82 150.64Z" fill="#d2d2d2" stroke="#262626" stroke-width="0.9" stroke-linejoin="round"/><path d="M236.4 148.75h4.41M236.19 151.06h4.2" stroke="#fff" stroke-width="1" fill="none"/>
<path d="M246.63 154.46L248.2 152.46L251.35 152.25L253.56 153.93L253.66 156.87L251.25 158.44L247.68 158.24L246.52 156.34Z" fill="#d2d2d2" stroke="#262626" stroke-width="0.9" stroke-linejoin="round"/><path d="M248.1 154.46h4.41M247.89 156.77h4.2" stroke="#fff" stroke-width="1" fill="none"/>
<path d="M261.23 151.96L262.81 149.96L265.95 149.75L268.16 151.43L268.26 154.37L265.85 155.94L262.28 155.74L261.12 153.84Z" fill="#d2d2d2" stroke="#262626" stroke-width="0.9" stroke-linejoin="round"/><path d="M262.7 151.96h4.41M262.49 154.27h4.2" stroke="#fff" stroke-width="1" fill="none"/>
<path d="M157.92 143.25l0.3 2.4M143.45 159.07l0.3 2.4M155.7 170.37l1.9 1.2M157.31 170.38l0.3 2.4M156.22 142.54l1.4 1.8M142.21 167.61l2.2 0.8M151.9 157.76l0.3 2.4M149.02 166.3l1.4 1.8M143.68 158.71l1.4 1.8M150.68 157.98l0.6 2.2M155.67 160.19l-0.8 2M158.69 154.26l2.2 0.8M153.11 169.63l2.2 0.8M148.79 165.63l1.9 1.2M161.28 143.54l2.2 0.8M154.66 168.13l1.9 1.2M152.67 159.88l0.6 2.2M144.07 153.96l2.2 0.8M144.95 156.16l0.6 2.2M166.01 143.41l0.3 2.4M155.9 168.14l2.2 0.8M153.91 165.7l0.6 2.2M162.84 170.29l-0.8 2M159.12 143.01l1.9 1.2M159.24 161.06l1.9 1.2M162.37 149.82l-0.8 2M164.06 151.76l-0.8 2M150.24 159.94l-0.8 2M142.53 164.82l1.4 1.8" stroke="#a0a0a0" stroke-width="0.75" fill="none"/>
<path d="M286.4 153.33l-0.8 2M269.3 154.92l0.3 2.4M278.39 158.06l1.9 1.2M290.19 170.69l1.4 1.8M284.32 141.37l0.3 2.4M270.99 157.57l0.3 2.4M281.92 170.55l1.9 1.2M289.54 170.46l1.9 1.2M284.78 142.67l1.9 1.2M287.94 153.16l-0.8 2M277.45 155.93l-0.8 2M267.86 168.1l0.3 2.4M276.98 160.67l2.2 0.8M282.86 155.7l0.6 2.2M289.27 171.79l-0.8 2M270.95 164.24l1.9 1.2M274.08 166.69l1.4 1.8M291.95 152.21l1.9 1.2M280.93 171.33l0.6 2.2M285.3 149.09l2.2 0.8M290.81 152.03l1.4 1.8M281.05 165.15l2.2 0.8" stroke="#a0a0a0" stroke-width="0.75" fill="none"/>
<circle cx="157.3" cy="157.3" r="5.2" fill="url(#gcg)"/>
<circle cx="175.4" cy="161.7" r="5.1" fill="url(#gcg)"/>
<circle cx="284" cy="157" r="5" fill="url(#gcg)"/>
<circle cx="302.9" cy="155.2" r="4.1" fill="url(#gcg)"/>
<circle cx="278.3" cy="175.9" r="4.1" fill="url(#gcg)"/>
<circle cx="298" cy="171.1" r="8.7" fill="url(#gcg)"/><circle cx="298" cy="171.1" r="8.1" fill="none" stroke="#8a8a8a" stroke-width="1.2"/><circle cx="298" cy="171.1" r="6.7" fill="none" stroke="#d0d0d0" stroke-width="0.8" stroke-dasharray="1 1"/>
<path d="M170.48 82.83L159.56 96.58L157.37 94.83L156 104.6L165.2 101.05L163.01 99.31L173.92 85.57Z" fill="#222"/>
<path d="M194.03 84.8L204.2 98.65L201.94 100.31L211 104.2L210 94.39L207.74 96.05L197.57 82.2Z" fill="#222"/>
<path d="M117.42 180.16L104.4 204.07L102.47 203.02L103.1 211.9L110.9 207.61L108.97 206.56L121.98 182.64Z" fill="#1f82c8"/>
<path d="M135.64 181.96L146.25 204.57L144.26 205.51L151.7 210.3L152.77 201.51L150.78 202.45L140.16 179.84Z" fill="#aee8fb"/>
<path d="M244.83 182.33L231.08 206.98L229.16 205.91L229.7 214.8L237.55 210.59L235.62 209.52L249.37 184.87Z" fill="#3dbb78"/>
<path d="M258.91 184.6L269.01 207.82L267 208.7L274.3 213.7L275.62 204.95L273.6 205.83L263.49 182.6Z" fill="#b5f5b5"/>
<g transform="translate(94.1 221.5)"><path d="M6.1 6.3L22.6 6.3C22.6 20 22.3 30 21 39C19.8 47 17.4 54 14.6 54C11.8 54 9.3 47 8 39C6.7 30 6.1 20 6.1 6.3Z" fill="#fde8d2" stroke="#4a4a4a" stroke-width="0.9"/><rect x="6" y="3.9" width="16.9" height="2.6" fill="#ececec" stroke="#7a7a7a" stroke-width="0.6"/><rect x="0.6" y="0.3" width="24.4" height="3.6" rx="0.6" fill="#c2c2c2" stroke="#555" stroke-width="0.8"/><rect x="0" y="0.9" width="3.6" height="2.8" rx="1.2" fill="#555"/></g><circle cx="107.8" cy="231.2" r="2.4" fill="#8f8f8f" stroke="#6f6f6f" stroke-width="0.6"/><circle cx="105.1" cy="240.8" r="2.4" fill="#8f8f8f" stroke="#6f6f6f" stroke-width="0.6"/><circle cx="113.9" cy="251.6" r="2.4" fill="#8f8f8f" stroke="#6f6f6f" stroke-width="0.6"/><circle cx="111.5" cy="260.2" r="2.4" fill="#8f8f8f" stroke="#6f6f6f" stroke-width="0.6"/><path d="M107.42 236.02L109.22 233.74L112.82 233.5L115.34 235.42L115.46 238.78L112.7 240.58L108.62 240.34L107.3 238.18Z" fill="#dadada" stroke="#262626" stroke-width="0.9" stroke-linejoin="round"/><path d="M109.1 236.02h5.04M108.86 238.66h4.8" stroke="#fff" stroke-width="1" fill="none"/><path d="M108.52 243.52L110.32 241.24L113.92 241L116.44 242.92L116.56 246.28L113.8 248.08L109.72 247.84L108.4 245.68Z" fill="#dadada" stroke="#262626" stroke-width="0.9" stroke-linejoin="round"/><path d="M110.2 243.52h5.04M109.96 246.16h4.8" stroke="#fff" stroke-width="1" fill="none"/><path d="M102.12 253.72L103.92 251.44L107.52 251.2L110.04 253.12L110.16 256.48L107.4 258.28L103.32 258.04L102 255.88Z" fill="#dadada" stroke="#262626" stroke-width="0.9" stroke-linejoin="round"/><path d="M103.8 253.72h5.04M103.56 256.36h4.8" stroke="#fff" stroke-width="1" fill="none"/><path d="M104.72 266.12L106.52 263.84L110.12 263.6L112.64 265.52L112.76 268.88L110 270.68L105.92 270.44L104.6 268.28Z" fill="#dadada" stroke="#262626" stroke-width="0.9" stroke-linejoin="round"/><path d="M106.4 266.12h5.04M106.16 268.76h4.8" stroke="#fff" stroke-width="1" fill="none"/><circle cx="103.5" cy="231.8" r="0.8" fill="#f07a3a"/><circle cx="106.2" cy="247.3" r="0.8" fill="#f07a3a"/><circle cx="106.5" cy="259.8" r="0.8" fill="#f07a3a"/><circle cx="103" cy="237.4" r="0.8" fill="#5560c8"/><circle cx="103.5" cy="261.6" r="0.8" fill="#5560c8"/><circle cx="113.3" cy="256.3" r="0.8" fill="#5560c8"/>
<g transform="translate(134.3 221.2)"><path d="M6.1 6.3L22.6 6.3C22.6 20 22.3 30 21 39C19.8 47 17.4 54 14.6 54C11.8 54 9.3 47 8 39C6.7 30 6.1 20 6.1 6.3Z" fill="#fde8d2" stroke="#4a4a4a" stroke-width="0.9"/><rect x="6" y="3.9" width="16.9" height="2.6" fill="#ececec" stroke="#7a7a7a" stroke-width="0.6"/><rect x="0.6" y="0.3" width="24.4" height="3.6" rx="0.6" fill="#c2c2c2" stroke="#555" stroke-width="0.8"/><rect x="0" y="0.9" width="3.6" height="2.8" rx="1.2" fill="#555"/></g><circle cx="145.1" cy="231.2" r="2.4" fill="#8f8f8f" stroke="#6f6f6f" stroke-width="0.6"/><circle cx="153.2" cy="235.5" r="2.4" fill="#8f8f8f" stroke="#6f6f6f" stroke-width="0.6"/><circle cx="144.5" cy="245.7" r="2.4" fill="#8f8f8f" stroke="#6f6f6f" stroke-width="0.6"/><circle cx="152.8" cy="250.5" r="2.4" fill="#8f8f8f" stroke="#6f6f6f" stroke-width="0.6"/><circle cx="149.4" cy="269.4" r="2.4" fill="#8f8f8f" stroke="#6f6f6f" stroke-width="0.6"/><path d="M142.12 237.62L143.92 235.34L147.52 235.1L150.04 237.02L150.16 240.38L147.4 242.18L143.32 241.94L142 239.78Z" fill="#dadada" stroke="#262626" stroke-width="0.9" stroke-linejoin="round"/><path d="M143.8 237.62h5.04M143.56 240.26h4.8" stroke="#fff" stroke-width="1" fill="none"/><path d="M149.12 243.02L150.92 240.74L154.52 240.5L157.04 242.42L157.16 245.78L154.4 247.58L150.32 247.34L149 245.18Z" fill="#dadada" stroke="#262626" stroke-width="0.9" stroke-linejoin="round"/><path d="M150.8 243.02h5.04M150.56 245.66h4.8" stroke="#fff" stroke-width="1" fill="none"/><path d="M142.12 253.22L143.92 250.94L147.52 250.7L150.04 252.62L150.16 255.98L147.4 257.78L143.32 257.54L142 255.38Z" fill="#dadada" stroke="#262626" stroke-width="0.9" stroke-linejoin="round"/><path d="M143.8 253.22h5.04M143.56 255.86h4.8" stroke="#fff" stroke-width="1" fill="none"/><path d="M146.42 260.72L148.22 258.44L151.82 258.2L154.34 260.12L154.46 263.48L151.7 265.28L147.62 265.04L146.3 262.88Z" fill="#dadada" stroke="#262626" stroke-width="0.9" stroke-linejoin="round"/><path d="M148.1 260.72h5.04M147.86 263.36h4.8" stroke="#fff" stroke-width="1" fill="none"/><circle cx="149.5" cy="228.8" r="0.8" fill="#f07a3a"/><circle cx="154.5" cy="258.5" r="0.8" fill="#f07a3a"/><circle cx="146" cy="265.8" r="0.8" fill="#f07a3a"/><circle cx="142.5" cy="242" r="0.8" fill="#5560c8"/><circle cx="143.5" cy="259.5" r="0.8" fill="#5560c8"/><circle cx="153.5" cy="256" r="0.8" fill="#5560c8"/>
<g transform="translate(220 224.3)"><path d="M6.1 6.3L22.6 6.3C22.6 20 22.3 30 21 39C19.8 47 17.4 54 14.6 54C11.8 54 9.3 47 8 39C6.7 30 6.1 20 6.1 6.3Z" fill="#fde8d2" stroke="#4a4a4a" stroke-width="0.9"/><rect x="6" y="3.9" width="16.9" height="2.6" fill="#ececec" stroke="#7a7a7a" stroke-width="0.6"/><rect x="0.6" y="0.3" width="24.4" height="3.6" rx="0.6" fill="#c2c2c2" stroke="#555" stroke-width="0.8"/><rect x="0" y="0.9" width="3.6" height="2.8" rx="1.2" fill="#555"/></g><circle cx="231" cy="234.3" r="2.4" fill="#8f8f8f" stroke="#6f6f6f" stroke-width="0.6"/><circle cx="232.3" cy="244" r="2.4" fill="#8f8f8f" stroke="#6f6f6f" stroke-width="0.6"/><circle cx="238.3" cy="255.3" r="2.4" fill="#8f8f8f" stroke="#6f6f6f" stroke-width="0.6"/><circle cx="234.6" cy="261.7" r="2.4" fill="#8f8f8f" stroke="#6f6f6f" stroke-width="0.6"/><path d="M233.32 236.92L235.12 234.64L238.72 234.4L241.24 236.32L241.36 239.68L238.6 241.48L234.52 241.24L233.2 239.08Z" fill="#dadada" stroke="#262626" stroke-width="0.9" stroke-linejoin="round"/><path d="M235 236.92h5.04M234.76 239.56h4.8" stroke="#fff" stroke-width="1" fill="none"/><path d="M234.72 246.92L236.52 244.64L240.12 244.4L242.64 246.32L242.76 249.68L240 251.48L235.92 251.24L234.6 249.08Z" fill="#dadada" stroke="#262626" stroke-width="0.9" stroke-linejoin="round"/><path d="M236.4 246.92h5.04M236.16 249.56h4.8" stroke="#fff" stroke-width="1" fill="none"/><path d="M227.42 252.82L229.22 250.54L232.82 250.3L235.34 252.22L235.46 255.58L232.7 257.38L228.62 257.14L227.3 254.98Z" fill="#dadada" stroke="#262626" stroke-width="0.9" stroke-linejoin="round"/><path d="M229.1 252.82h5.04M228.86 255.46h4.8" stroke="#fff" stroke-width="1" fill="none"/><path d="M231.12 268.82L232.92 266.54L236.52 266.3L239.04 268.22L239.16 271.58L236.4 273.38L232.32 273.14L231 270.98Z" fill="#dadada" stroke="#262626" stroke-width="0.9" stroke-linejoin="round"/><path d="M232.8 268.82h5.04M232.56 271.46h4.8" stroke="#fff" stroke-width="1" fill="none"/><circle cx="236" cy="232" r="0.8" fill="#f07a3a"/><circle cx="229" cy="260.5" r="0.8" fill="#f07a3a"/><circle cx="228.5" cy="240" r="0.8" fill="#5560c8"/><circle cx="240.5" cy="243" r="0.8" fill="#5560c8"/>
<g transform="translate(258 224.3)"><path d="M6.1 6.3L22.6 6.3C22.6 20 22.3 30 21 39C19.8 47 17.4 54 14.6 54C11.8 54 9.3 47 8 39C6.7 30 6.1 20 6.1 6.3Z" fill="#fde8d2" stroke="#4a4a4a" stroke-width="0.9"/><rect x="6" y="3.9" width="16.9" height="2.6" fill="#ececec" stroke="#7a7a7a" stroke-width="0.6"/><rect x="0.6" y="0.3" width="24.4" height="3.6" rx="0.6" fill="#c2c2c2" stroke="#555" stroke-width="0.8"/><rect x="0" y="0.9" width="3.6" height="2.8" rx="1.2" fill="#555"/></g><circle cx="268" cy="234.3" r="2.4" fill="#8f8f8f" stroke="#6f6f6f" stroke-width="0.6"/><circle cx="273.5" cy="235.2" r="1.8" fill="#8f8f8f" stroke="#6f6f6f" stroke-width="0.6"/><circle cx="275.7" cy="239.4" r="2.4" fill="#8f8f8f" stroke="#6f6f6f" stroke-width="0.6"/><circle cx="268" cy="248.9" r="2.4" fill="#8f8f8f" stroke="#6f6f6f" stroke-width="0.6"/><circle cx="277.6" cy="252.6" r="2.4" fill="#8f8f8f" stroke="#6f6f6f" stroke-width="0.6"/><circle cx="275.7" cy="258.1" r="2.4" fill="#8f8f8f" stroke="#6f6f6f" stroke-width="0.6"/><circle cx="274.8" cy="269.6" r="2.4" fill="#8f8f8f" stroke="#6f6f6f" stroke-width="0.6"/><circle cx="272.2" cy="273.5" r="1.8" fill="#8f8f8f" stroke="#6f6f6f" stroke-width="0.6"/><path d="M265.22 238.72L267.02 236.44L270.62 236.2L273.14 238.12L273.26 241.48L270.5 243.28L266.42 243.04L265.1 240.88Z" fill="#dadada" stroke="#262626" stroke-width="0.9" stroke-linejoin="round"/><path d="M266.9 238.72h5.04M266.66 241.36h4.8" stroke="#fff" stroke-width="1" fill="none"/><path d="M271.32 246.02L273.12 243.74L276.72 243.5L279.24 245.42L279.36 248.78L276.6 250.58L272.52 250.34L271.2 248.18Z" fill="#dadada" stroke="#262626" stroke-width="0.9" stroke-linejoin="round"/><path d="M273 246.02h5.04M272.76 248.66h4.8" stroke="#fff" stroke-width="1" fill="none"/><path d="M264.72 255.72L266.52 253.44L270.12 253.2L272.64 255.12L272.76 258.48L270 260.28L265.92 260.04L264.6 257.88Z" fill="#dadada" stroke="#262626" stroke-width="0.9" stroke-linejoin="round"/><path d="M266.4 255.72h5.04M266.16 258.36h4.8" stroke="#fff" stroke-width="1" fill="none"/><path d="M268.02 263.32L269.82 261.04L273.42 260.8L275.94 262.72L276.06 266.08L273.3 267.88L269.22 267.64L267.9 265.48Z" fill="#dadada" stroke="#262626" stroke-width="0.9" stroke-linejoin="round"/><path d="M269.7 263.32h5.04M269.46 265.96h4.8" stroke="#fff" stroke-width="1" fill="none"/><circle cx="272" cy="231.5" r="0.8" fill="#f07a3a"/><circle cx="266.5" cy="262" r="0.8" fill="#f07a3a"/><circle cx="266" cy="245" r="0.8" fill="#5560c8"/><circle cx="279" cy="233.5" r="0.8" fill="#5560c8"/>
<text x="226.9" y="48.7" font-size="14.5" fill="#000">Growth,</text>
<text x="230" y="66" font-size="14.5" fill="#000">harvest</text>
<text x="85.9" y="122.3" font-size="14.5" fill="#2b7fc4">Sonication</text>
<text x="202.5" y="122.5" font-size="14.5" fill="#3dbd7e">Homogenization</text>
<text x="45.5" y="193.9" font-size="14.5" fill="#000">Higher</text>
<text x="44.5" y="210.5" font-size="14.5" fill="#000">g-force</text>
<text x="49" y="227.7" font-size="14.5" fill="#000">(S30)</text>
<text x="164.1" y="193.9" font-size="14.5" fill="#000">Lower</text>
<text x="161.7" y="210.5" font-size="14.5" fill="#000">g-force</text>
<text x="166.4" y="227.7" font-size="14.5" fill="#000">(S12)</text>
</svg>
</body></html>
